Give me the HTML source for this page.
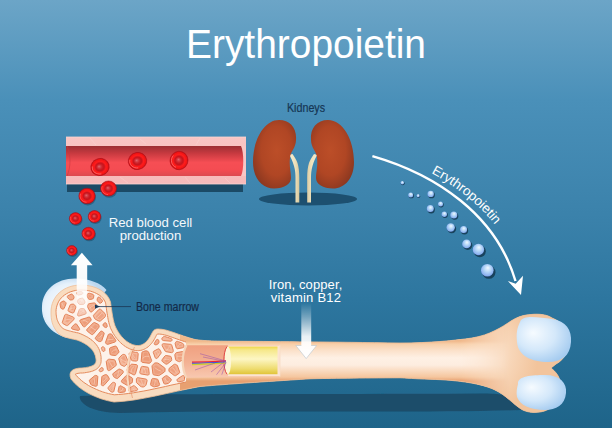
<!DOCTYPE html>
<html><head><meta charset="utf-8"><style>
html,body{margin:0;padding:0;width:612px;height:428px;overflow:hidden;background:#3b82ab}
svg{display:block}
text{font-family:"Liberation Sans",sans-serif}
</style></head><body>
<svg width="612" height="428" viewBox="0 0 612 428">
<defs>
<linearGradient id="bgG" x1="0" y1="0" x2="0" y2="1">
 <stop offset="0" stop-color="#6ca5c7"/>
 <stop offset="0.234" stop-color="#4a90b9"/>
 <stop offset="0.5" stop-color="#3b82ab"/>
 <stop offset="0.7" stop-color="#2d769f"/>
 <stop offset="1" stop-color="#1e6489"/>
</linearGradient>
<radialGradient id="rbcG">
 <stop offset="0" stop-color="#d02830"/>
 <stop offset="0.45" stop-color="#c8141c"/>
 <stop offset="0.65" stop-color="#ff1c1c"/>
 <stop offset="0.88" stop-color="#f01414"/>
 <stop offset="1" stop-color="#b00c14"/>
</radialGradient>
<radialGradient id="rbcC" fx="0.45" fy="0.4">
 <stop offset="0" stop-color="#e47880" stop-opacity="0.85"/>
 <stop offset="1" stop-color="#d02830" stop-opacity="0"/>
</radialGradient>
<radialGradient id="bubG" cx="0.5" cy="0.45" r="0.58" fx="0.55" fy="0.3">
 <stop offset="0" stop-color="#f2f9ff"/>
 <stop offset="0.45" stop-color="#b6d8f8"/>
 <stop offset="0.85" stop-color="#8cb2f0"/>
 <stop offset="1" stop-color="#7090e0"/>
</radialGradient>
<linearGradient id="wallG" x1="0" y1="0" x2="0" y2="1">
 <stop offset="0" stop-color="#f9c6c4"/>
 <stop offset="1" stop-color="#f6baba"/>
</linearGradient>
<linearGradient id="lumenG" x1="0" y1="0" x2="0" y2="1">
 <stop offset="0" stop-color="#9c3034"/>
 <stop offset="0.25" stop-color="#c83a40"/>
 <stop offset="0.55" stop-color="#f64e54"/>
 <stop offset="0.8" stop-color="#f44c52"/>
 <stop offset="1" stop-color="#dc4a50"/>
</linearGradient>
<radialGradient id="kidG" cx="0.55" cy="0.45" r="0.6">
 <stop offset="0" stop-color="#bc4e28"/>
 <stop offset="0.6" stop-color="#b04624"/>
 <stop offset="1" stop-color="#8c3820"/>
</radialGradient>
<filter id="blur1" x="-5%" y="-50%" width="110%" height="200%"><feGaussianBlur stdDeviation="0.7"/></filter>
<linearGradient id="urG" x1="0" y1="0" x2="1" y2="0">
 <stop offset="0" stop-color="#f6eed6"/>
 <stop offset="0.6" stop-color="#efe2bc"/>
 <stop offset="1" stop-color="#d8c89c"/>
</linearGradient>
<linearGradient id="urG2" x1="0" y1="0" x2="1" y2="0">
 <stop offset="0" stop-color="#f4ead0"/>
 <stop offset="0.6" stop-color="#efe2bc"/>
 <stop offset="1" stop-color="#dccca4"/>
</linearGradient>
<linearGradient id="shaftG" gradientUnits="userSpaceOnUse" x1="0" y1="341" x2="0" y2="381">
 <stop offset="0" stop-color="#f0b88a"/>
 <stop offset="0.08" stop-color="#f8d0aa"/>
 <stop offset="0.25" stop-color="#fbe2cc"/>
 <stop offset="0.42" stop-color="#fef0e4"/>
 <stop offset="0.6" stop-color="#fdede0"/>
 <stop offset="0.76" stop-color="#f9d8bc"/>
 <stop offset="0.9" stop-color="#f5c69e"/>
 <stop offset="1" stop-color="#e8a070"/>
</linearGradient>
<radialGradient id="flareG" gradientUnits="userSpaceOnUse" cx="478" cy="355" r="60" fx="470" fy="350">
 <stop offset="0" stop-color="#fde8d6"/>
 <stop offset="0.5" stop-color="#f9dbc0"/>
 <stop offset="1" stop-color="#f2c49c"/>
</radialGradient>
<linearGradient id="maskG" gradientUnits="userSpaceOnUse" x1="460" y1="0" x2="510" y2="0">
 <stop offset="0" stop-color="#fff"/>
 <stop offset="1" stop-color="#000"/>
</linearGradient>
<mask id="shaftMask" maskUnits="userSpaceOnUse" x="0" y="0" width="612" height="428"><rect x="0" y="0" width="612" height="428" fill="url(#maskG)"/></mask>
<linearGradient id="boneG" x1="0" y1="0" x2="0" y2="1">
 <stop offset="0" stop-color="#f4cfa8"/>
 <stop offset="0.45" stop-color="#fbe5cd"/>
 <stop offset="1" stop-color="#f2caa2"/>
</linearGradient>
<linearGradient id="cavG" x1="0" y1="0" x2="0" y2="1">
 <stop offset="0" stop-color="#f0a080"/>
 <stop offset="0.5" stop-color="#f3b092"/>
 <stop offset="1" stop-color="#f8c8b0"/>
</linearGradient>
<linearGradient id="yelG" x1="0" y1="0" x2="0" y2="1">
 <stop offset="0" stop-color="#f0d848"/>
 <stop offset="0.12" stop-color="#f6e88a"/>
 <stop offset="0.45" stop-color="#fdf6c4"/>
 <stop offset="0.8" stop-color="#eedc70"/>
 <stop offset="1" stop-color="#e0c438"/>
</linearGradient>
<radialGradient id="capG" cx="0.45" cy="0.5" r="0.55">
 <stop offset="0" stop-color="#ffffff"/>
 <stop offset="0.75" stop-color="#e6f1fb"/>
 <stop offset="1" stop-color="#bcd8f0"/>
</radialGradient>
<radialGradient id="condG" cx="0.4" cy="0.4" r="0.65" fx="0.3" fy="0.35">
 <stop offset="0" stop-color="#f6fbff"/>
 <stop offset="0.55" stop-color="#d4e8fa"/>
 <stop offset="1" stop-color="#a6ccf0"/>
</radialGradient>
<linearGradient id="upG" x1="0" y1="0" x2="0" y2="1">
 <stop offset="0" stop-color="#ffffff"/>
 <stop offset="0.45" stop-color="#ffffff" stop-opacity="0.95"/>
 <stop offset="0.62" stop-color="#ffffff" stop-opacity="0.75"/>
 <stop offset="0.85" stop-color="#ffffff" stop-opacity="0.5"/>
 <stop offset="1" stop-color="#ffffff" stop-opacity="0.15"/>
</linearGradient>
<linearGradient id="downG" x1="0" y1="0" x2="0" y2="1">
 <stop offset="0" stop-color="#ffffff" stop-opacity="0"/>
 <stop offset="0.25" stop-color="#ffffff" stop-opacity="0.35"/>
 <stop offset="0.6" stop-color="#ffffff" stop-opacity="0.9"/>
 <stop offset="1" stop-color="#ffffff"/>
</linearGradient>
</defs>
<rect width="612" height="428" fill="url(#bgG)"/><text x="306" y="58" text-anchor="middle" font-size="40" fill="#ffffff" textLength="240" lengthAdjust="spacingAndGlyphs">Erythropoietin</text><rect x="67" y="183" width="176" height="9" fill="#1b4a66"/><rect x="66" y="137" width="180" height="47" fill="url(#wallG)"/><path d="M66,146 L243,146 C245,152 245,170 243,176 L66,176 Z" fill="url(#lumenG)"/><path d="M67,146 C71,155 71,167 67,176" fill="none" stroke="#c8383e" stroke-width="0.8" opacity="0.7"/><path d="M241,146 C244,152 244,170 241,176 L246,176 L246,146 Z" fill="#f9c6c4"/><path d="M66,137 L246,137 M66,184 L246,184" stroke="#fbd4d2" stroke-width="0.8"/><path d="M90,138 L96,145 M140,139 L146,144 M200,138 L196,145 M120,177 L128,183 M185,177 L190,183 M225,178 L230,183" stroke="#fde0de" stroke-width="0.6" fill="none" opacity="0.5"/><g transform="translate(100,167) rotate(-15)"><ellipse rx="9.3" ry="8.6" fill="url(#rbcG)" stroke="#b80e18" stroke-width="0.5"/><ellipse cx="-0.4650000000000001" cy="-0.172" rx="3.906" ry="3.44" fill="url(#rbcC)"/><path d="M-7.25,-2.58 A7.44,6.88 0 0 0 -0.47,6.88" fill="none" stroke="#ff9c9c" stroke-width="0.93" opacity="0.55"/></g><g transform="translate(137.5,161) rotate(-10)"><ellipse rx="9.3" ry="8.6" fill="url(#rbcG)" stroke="#b80e18" stroke-width="0.5"/><ellipse cx="-0.4650000000000001" cy="-0.172" rx="3.906" ry="3.44" fill="url(#rbcC)"/><path d="M-7.25,-2.58 A7.44,6.88 0 0 0 -0.47,6.88" fill="none" stroke="#ff9c9c" stroke-width="0.93" opacity="0.55"/></g><g transform="translate(179,160.5) rotate(20)"><ellipse rx="9.0" ry="9.3" fill="url(#rbcG)" stroke="#b80e18" stroke-width="0.5"/><ellipse cx="-0.45" cy="-0.18600000000000003" rx="3.78" ry="3.7200000000000006" fill="url(#rbcC)"/><path d="M-7.02,-2.79 A7.20,7.44 0 0 0 -0.45,7.44" fill="none" stroke="#ff9c9c" stroke-width="0.90" opacity="0.55"/></g><ellipse cx="308" cy="199" rx="49" ry="6.5" fill="#1d5070"/><path d="M288.8,155 C291,157 292.5,161 294,166 C295.2,170 295.5,174 295.5,178 L295.5,202.4 L299.3,202.4 L299.3,178 C299.3,172 298.8,167 297.5,163 C296.5,160 294.5,157 292.5,154 Z" fill="url(#urG)"/><path d="M288.8,155 C291,157 292.5,161 294,166 C295.2,170 295.5,174 295.5,178 L295.5,202.4 L299.3,202.4 L299.3,178 C299.3,172 298.8,167 297.5,163 C296.5,160 294.5,157 292.5,154 Z" fill="url(#urG2)" transform="translate(606.5,0) scale(-1,1)"/><path d="M279,120 C290,120 297,128 296,140 C296,148 290,152 290,158 C289,166 291,172 291,178 C291,184 284,188.5 274,188.5 C262,188.5 253,178 253,162 C253,140 264,120 279,120 Z" fill="url(#kidG)"/><path d="M279,120 C290,120 297,128 296,140 C296,148 290,152 290,158 C289,166 291,172 291,178 C291,184 284,188.5 274,188.5 C262,188.5 253,178 253,162 C253,140 264,120 279,120 Z" fill="url(#kidG)" transform="translate(607,0) scale(-1,1)"/><text x="0" y="0" font-size="12.5" fill="#163654" stroke="#163654" stroke-width="0.2" text-anchor="middle" transform="translate(306,111.6) scale(0.86,1)">Kidneys</text><ellipse cx="109.3" cy="190.1" rx="8" ry="7.6" fill="#17435e" opacity="0.5"/><g transform="translate(108.5,188.5) rotate(0)"><ellipse rx="8" ry="7.6" fill="url(#rbcG)" stroke="#b80e18" stroke-width="0.5"/><ellipse cx="-0.4" cy="-0.152" rx="3.36" ry="3.04" fill="url(#rbcC)"/><path d="M-6.24,-2.28 A6.40,6.08 0 0 0 -0.40,6.08" fill="none" stroke="#ff9c9c" stroke-width="0.80" opacity="0.55"/></g><ellipse cx="87.8" cy="197.6" rx="8.2" ry="7.789999999999999" fill="#17435e" opacity="0.5"/><g transform="translate(87,196) rotate(0)"><ellipse rx="8.2" ry="7.789999999999999" fill="url(#rbcG)" stroke="#b80e18" stroke-width="0.5"/><ellipse cx="-0.41" cy="-0.1558" rx="3.4439999999999995" ry="3.1159999999999997" fill="url(#rbcC)"/><path d="M-6.40,-2.34 A6.56,6.23 0 0 0 -0.41,6.23" fill="none" stroke="#ff9c9c" stroke-width="0.82" opacity="0.55"/></g><ellipse cx="76.3" cy="220.1" rx="6.2" ry="5.89" fill="#17435e" opacity="0.5"/><g transform="translate(75.5,218.5) rotate(0)"><ellipse rx="6.2" ry="5.89" fill="url(#rbcG)" stroke="#b80e18" stroke-width="0.5"/><ellipse cx="-0.31000000000000005" cy="-0.1178" rx="2.604" ry="2.356" fill="url(#rbcC)"/><path d="M-4.84,-1.77 A4.96,4.71 0 0 0 -0.31,4.71" fill="none" stroke="#ff9c9c" stroke-width="0.62" opacity="0.55"/></g><ellipse cx="95.3" cy="218.1" rx="6.3" ry="5.984999999999999" fill="#17435e" opacity="0.5"/><g transform="translate(94.5,216.5) rotate(0)"><ellipse rx="6.3" ry="5.984999999999999" fill="url(#rbcG)" stroke="#b80e18" stroke-width="0.5"/><ellipse cx="-0.315" cy="-0.11969999999999999" rx="2.646" ry="2.3939999999999997" fill="url(#rbcC)"/><path d="M-4.91,-1.80 A5.04,4.79 0 0 0 -0.32,4.79" fill="none" stroke="#ff9c9c" stroke-width="0.63" opacity="0.55"/></g><ellipse cx="89.3" cy="235.1" rx="6.6" ry="6.27" fill="#17435e" opacity="0.5"/><g transform="translate(88.5,233.5) rotate(0)"><ellipse rx="6.6" ry="6.27" fill="url(#rbcG)" stroke="#b80e18" stroke-width="0.5"/><ellipse cx="-0.33" cy="-0.12539999999999998" rx="2.772" ry="2.508" fill="url(#rbcC)"/><path d="M-5.15,-1.88 A5.28,5.02 0 0 0 -0.33,5.02" fill="none" stroke="#ff9c9c" stroke-width="0.66" opacity="0.55"/></g><ellipse cx="72.6" cy="252.1" rx="5.2" ry="4.9399999999999995" fill="#17435e" opacity="0.5"/><g transform="translate(71.8,250.5) rotate(0)"><ellipse rx="5.2" ry="4.9399999999999995" fill="url(#rbcG)" stroke="#b80e18" stroke-width="0.5"/><ellipse cx="-0.26" cy="-0.0988" rx="2.184" ry="1.976" fill="url(#rbcC)"/><path d="M-4.06,-1.48 A4.16,3.95 0 0 0 -0.26,3.95" fill="none" stroke="#ff9c9c" stroke-width="0.60" opacity="0.55"/></g><text x="150.5" y="226.6" text-anchor="middle" font-size="13.2" fill="#f4f8fb">Red blood cell</text><text x="150.5" y="239.6" text-anchor="middle" font-size="13.2" fill="#f4f8fb">production</text><path d="M80,396 C150,393 300,394.5 480,393.5 C515,393 528,402 522,410 C400,413.5 250,409.5 120,413 C90,413 78,402 80,396 Z" fill="#1b4d6b" filter="url(#blur1)"/><path d="M67,338 C50,333 41,321 42,306 C43,290 56,278.5 75,278.5 C89,278.5 101,283 106.5,290 L95,305 L75,330 Z" fill="url(#capG)"/><clipPath id="boneClip"><path d="M81,285 C97,285 108,293 110.5,302 C112,312 113,322 116,328 C120,336 127,344 136,345.5 C143,346.5 148,341 151,335 C153,331 154,329 158,329 C168,329 178,335 195,339.5 C205,341 215,341.2 240,341.3 C280,341.5 330,342 400,343 C430,343 455,340.5 472,338 C490,335 502,327 511,321 C518,316.5 524,315 531,314.5 C540,313.5 548,315 552,318 C572,325 574,355 556,364 L551,368 C556,372 559,376 560,381 C562,396 555,410 540,412 C532,413 526,412 521,409 C513,404 506,395 494,389.5 C482,384 460,380 430,379.3 C415,378.8 405,378 400,377.8 C360,378 330,378.3 310,378.8 C260,382 230,384 200,386.5 C170,392 140,401 114,402 C96,399 79,390 71,379 C68,372 72,368 82,368 C92,367 97,365 96,359 C95,350 88,344 77,340 C68,338 62,337 58,333 C52,326 51,320 51,312 C51,296 64,285 81,285 Z"/></clipPath><path d="M81,285 C97,285 108,293 110.5,302 C112,312 113,322 116,328 C120,336 127,344 136,345.5 C143,346.5 148,341 151,335 C153,331 154,329 158,329 C168,329 178,335 195,339.5 C205,341 215,341.2 240,341.3 C280,341.5 330,342 400,343 C430,343 455,340.5 472,338 C490,335 502,327 511,321 C518,316.5 524,315 531,314.5 C540,313.5 548,315 552,318 C572,325 574,355 556,364 L551,368 C556,372 559,376 560,381 C562,396 555,410 540,412 C532,413 526,412 521,409 C513,404 506,395 494,389.5 C482,384 460,380 430,379.3 C415,378.8 405,378 400,377.8 C360,378 330,378.3 310,378.8 C260,382 230,384 200,386.5 C170,392 140,401 114,402 C96,399 79,390 71,379 C68,372 72,368 82,368 C92,367 97,365 96,359 C95,350 88,344 77,340 C68,338 62,337 58,333 C52,326 51,320 51,312 C51,296 64,285 81,285 Z" fill="#f9dcc0"/><g clip-path="url(#boneClip)"><rect x="440" y="300" width="160" height="128" fill="url(#flareG)"/><rect x="180" y="300" width="420" height="128" fill="url(#shaftG)" mask="url(#shaftMask)"/></g><path d="M75.7,290.4 73.2,291.0 70.8,291.7 68.6,292.6 66.6,293.7 64.7,294.9 62.9,296.3 61.4,297.8 60.0,299.4 58.8,301.2 57.9,303.1 57.1,305.1 56.5,307.3 56.1,309.6 56.0,311.6 56.1,312.5 56.1,313.8 56.2,314.9 56.4,316.1 56.5,317.2 56.8,318.2 57.0,319.3 57.4,320.3 57.8,321.2 58.2,322.2 58.7,323.2 59.4,324.3 60.1,325.3 60.9,326.4 61.6,327.4 62.0,327.7 62.6,328.1 63.1,328.5 63.8,328.9 64.5,329.3 65.3,329.6 66.2,330.0 67.2,330.3 68.2,330.6 69.4,330.9 70.6,331.2 71.9,331.6 73.3,331.9 74.8,332.2 76.4,332.6 76.4,332.6 78.1,332.9 78.4,333.0 78.8,333.1 80.8,333.9 81.0,334.0 82.9,334.8 83.1,334.9 84.9,335.8 85.1,335.9 86.8,336.8 87.1,336.9 88.7,337.9 88.9,338.0 90.4,339.1 90.7,339.3 92.0,340.3 92.3,340.6 93.6,341.7 93.8,342.0 95.0,343.2 95.3,343.4 96.3,344.7 96.6,345.0 97.5,346.4 97.7,346.7 98.5,348.1 98.7,348.5 99.4,350.0 99.5,350.4 100.1,351.9 100.2,352.4 100.6,353.9 100.7,354.4 100.9,356.0 101.0,356.3 101.1,357.3 101.1,358.0 101.1,359.0 101.1,359.4 101.1,359.4 101.1,359.5 101.1,360.2 101.1,361.2 101.1,361.6 101.0,361.9 100.9,362.8 100.8,363.3 100.6,363.7 100.3,364.5 100.2,364.9 100.0,365.3 99.5,366.0 99.3,366.4 99.1,366.7 98.5,367.4 98.2,367.7 97.9,368.0 97.2,368.6 96.7,369.0 95.9,369.5 95.4,369.8 94.4,370.3 94.0,370.5 92.9,370.9 92.6,371.1 91.4,371.4 91.1,371.5 89.8,371.9 89.5,371.9 88.1,372.2 87.9,372.2 86.3,372.5 86.2,372.5 84.5,372.8 84.4,372.8 82.5,373.0 82.1,373.0 80.5,373.0 79.1,373.2 78.0,373.3 77.0,373.6 76.2,373.8 75.7,374.0 75.4,374.2 75.4,374.3 76.4,375.6 78.0,377.3 79.8,379.1 81.7,380.7 83.8,382.4 86.1,383.9 88.5,385.5 91.1,386.9 93.8,388.2 96.6,389.5 99.5,390.7 102.4,391.8 105.4,392.7 108.5,393.6 111.7,394.3 114.3,394.8 118.6,394.5 123.4,394.1 128.4,393.5 133.4,392.8 138.6,391.9 143.8,391.0 149.1,390.0 154.5,388.8 159.9,387.7 165.4,386.5 170.9,385.2 176.5,384.0 176.5,384.0 182.1,382.8 182.1,382.8 186.0,382.0 186.0,342.1 184.6,341.6 184.5,341.6 181.9,340.7 181.8,340.7 179.3,339.8 179.2,339.8 176.8,338.9 176.8,338.9 174.4,338.1 172.2,337.3 170.1,336.6 168.1,335.9 166.2,335.3 164.4,334.9 162.7,334.5 161.1,334.2 159.5,334.1 158.0,334.0 157.6,334.0 157.4,334.0 157.3,334.1 157.2,334.1 157.1,334.3 156.9,334.5 156.7,334.9 156.4,335.4 156.1,335.9 155.8,336.5 155.5,337.2 155.4,337.3 154.8,338.4 154.7,338.6 154.1,339.7 154.0,339.9 153.3,341.0 153.2,341.2 152.5,342.2 152.3,342.4 151.5,343.4 151.3,343.6 150.5,344.5 150.3,344.8 149.4,345.6 149.2,345.9 148.3,346.7 148.0,346.9 147.0,347.6 146.6,347.8 145.6,348.5 145.2,348.7 144.2,349.2 143.7,349.4 142.6,349.8 142.1,350.0 141.0,350.3 140.4,350.4 139.2,350.5 138.7,350.6 137.4,350.6 136.9,350.6 135.6,350.5 135.0,350.4 133.3,350.0 132.9,349.9 131.2,349.4 130.8,349.3 129.3,348.7 128.9,348.5 127.4,347.7 127.1,347.6 125.6,346.7 125.3,346.5 123.9,345.5 123.7,345.3 122.3,344.3 122.1,344.1 120.8,342.9 120.6,342.7 119.4,341.5 119.2,341.3 118.0,340.0 117.9,339.8 116.7,338.5 116.6,338.3 115.5,336.9 115.4,336.7 114.4,335.3 114.3,335.1 113.4,333.6 113.3,333.5 112.4,332.0 112.4,331.8 111.6,330.3 111.5,330.1 110.9,328.9 110.8,328.7 110.3,327.4 110.2,327.2 109.8,325.8 109.7,325.7 109.3,324.2 109.2,324.1 108.9,322.6 108.8,322.5 108.5,320.9 108.4,320.8 108.1,319.2 108.1,319.1 107.8,317.4 107.8,317.4 107.5,315.6 107.5,315.6 107.2,313.8 107.2,313.8 106.9,312.0 106.9,312.0 106.6,310.2 106.6,310.1 106.4,308.3 106.1,306.4 105.8,304.6 105.6,303.2 105.3,302.2 104.7,301.0 104.0,299.9 103.2,298.7 102.2,297.6 101.0,296.4 99.7,295.4 98.2,294.4 96.5,293.5 94.7,292.6 92.8,291.9 90.7,291.2 88.5,290.7 86.1,290.3 83.6,290.1 81.0,290.0 78.3,290.1Z" fill="#fdf2ea"/><g><path d="M60.1,303.6 60.1,303.7 60.0,303.9 60.0,304.0 60.0,304.1 60.0,304.3 60.0,304.4 60.0,304.5 60.6,307.6 60.6,307.7 60.7,307.8 60.7,308.0 60.8,308.1 60.9,308.2 61.0,308.3 61.1,308.4 61.2,308.5 61.3,308.5 62.3,309.0 62.4,309.1 62.5,309.1 62.7,309.1 62.8,309.2 62.9,309.2 63.1,309.2 63.2,309.1 63.3,309.1 63.5,309.0 63.6,309.0 63.7,308.9 63.8,308.8 63.9,308.7 64.0,308.6 64.1,308.5 64.1,308.4 64.2,308.3 66.0,303.9 66.0,303.8 66.1,303.7 66.1,303.5 66.1,303.4 66.1,303.3 66.1,303.1 66.0,303.0 66.0,302.9 65.9,302.7 65.9,302.6 65.8,302.5 65.7,302.4 64.7,301.4 64.6,301.3 64.5,301.2 64.4,301.1 64.2,301.1 64.1,301.0 64.0,301.0 63.8,301.0 63.7,301.0 63.5,301.0 63.4,301.0 63.3,301.0 63.1,301.1 61.4,301.9 61.3,301.9 61.1,302.0 61.0,302.1 60.9,302.2 60.8,302.3 60.8,302.4 60.7,302.5Z" fill="#f0aa8a" stroke="#e0784c" stroke-width="0.9"/><path d="M62.0,303.1 Q62.5,305.0 63.9,306.7" fill="none" stroke="#fbd8c4" stroke-width="0.7" opacity="0.8"/><path d="M68.1,295.6 68.0,295.7 67.8,295.7 67.7,295.8 67.7,295.9 67.6,296.0 67.5,296.2 67.4,296.3 67.4,296.4 67.4,296.5 67.3,296.7 67.3,296.8 67.3,297.0 67.3,297.1 67.4,297.2 67.4,297.4 67.5,297.5 67.6,297.6 67.6,297.7 67.7,297.8 69.4,299.5 69.5,299.6 69.6,299.7 69.7,299.8 69.9,299.9 70.0,299.9 70.1,299.9 70.3,300.0 70.4,300.0 70.6,300.0 72.3,299.8 72.5,299.8 72.6,299.7 72.7,299.7 72.8,299.6 72.9,299.6 73.1,299.5 73.2,299.4 73.3,299.3 73.3,299.2 73.4,299.1 73.5,299.0 73.9,297.9 74.0,297.8 74.0,297.6 74.1,297.5 74.1,297.4 74.1,297.2 74.1,297.1 74.0,297.0 74.0,296.8 73.9,296.7 73.9,296.6 72.8,294.8 72.7,294.7 72.6,294.6 72.5,294.5 72.4,294.4 72.3,294.3 72.2,294.2 72.0,294.2 71.9,294.1 71.8,294.1 71.6,294.1 71.5,294.1 71.3,294.1 71.2,294.2 71.1,294.2 69.7,294.8 69.6,294.8Z" fill="#f1ae90" stroke="#e0784c" stroke-width="0.9"/><path d="M62.4,321.9 62.4,322.1 62.4,322.2 62.3,322.3 62.3,322.5 62.4,322.6 62.4,322.8 62.4,322.9 62.5,323.0 62.6,323.1 62.6,323.2 62.7,323.4 62.8,323.5 62.9,323.5 63.0,323.6 66.2,325.4 66.3,325.5 66.5,325.6 66.6,325.6 66.7,325.6 66.9,325.6 67.0,325.6 67.2,325.6 67.3,325.6 67.4,325.5 67.5,325.5 67.7,325.4 67.8,325.3 67.9,325.3 73.8,319.7 73.9,319.6 74.0,319.5 74.0,319.4 74.1,319.3 74.1,319.1 74.2,319.0 74.2,318.9 74.2,318.7 74.2,318.6 74.2,318.4 74.2,318.3 74.1,318.2 74.0,318.0 73.8,317.6 73.8,317.5 73.7,317.4 73.6,317.3 73.5,317.2 73.4,317.1 73.2,317.1 73.1,317.0 66.6,314.4 66.4,314.3 66.3,314.3 66.2,314.3 66.0,314.3 65.9,314.3 65.8,314.3 65.6,314.3 65.5,314.4 65.4,314.4 65.3,314.5 65.2,314.6 65.1,314.7 65.0,314.8 64.9,314.9 64.8,315.0 64.8,315.1 64.7,315.2Z" fill="#f5ba9e" stroke="#e0784c" stroke-width="0.9"/><path d="M65.2,321.2 67.6,322.6 72.2,318.2 66.9,316.1Z" fill="#e8875e" opacity="0.4"/><path d="M70.8,319.3 Q66.1,319.2 64.7,320.4" fill="none" stroke="#fbd8c4" stroke-width="0.7" opacity="0.8"/><path d="M68.2,309.7 68.1,309.9 68.1,310.0 68.1,310.1 68.0,310.3 68.1,310.4 68.1,310.5 68.1,310.7 68.2,310.8 68.2,310.9 68.3,311.1 68.4,311.2 68.5,311.3 68.6,311.4 68.7,311.4 68.8,311.5 68.9,311.6 72.2,312.9 72.3,312.9 72.5,313.0 72.6,313.0 72.8,313.0 72.9,313.0 73.0,313.0 73.2,312.9 73.3,312.9 73.4,312.8 73.5,312.7 73.7,312.6 73.8,312.6 73.8,312.4 73.9,312.3 74.0,312.2 74.0,312.1 75.7,307.7 75.8,307.5 75.8,307.4 75.8,307.3 75.8,307.1 75.8,307.0 75.8,306.9 75.8,306.7 75.7,306.6 75.6,306.5 75.6,306.3 74.3,304.7 74.2,304.6 74.1,304.5 74.0,304.4 73.9,304.3 73.8,304.3 73.7,304.2 73.6,304.2 73.5,304.1 73.3,304.1 73.2,304.1 73.1,304.1 71.2,304.3 71.0,304.3 70.9,304.4 70.8,304.4 70.7,304.5 70.5,304.5 70.4,304.6 70.3,304.7 70.2,304.8 70.1,304.9 70.1,305.0 70.0,305.2Z" fill="#f5ba9e" stroke="#e0784c" stroke-width="0.9"/><path d="M71.1,309.6 73.1,310.4 74.3,307.2 73.3,305.9 72.6,305.9Z" fill="#e8875e" opacity="0.4"/><path d="M74.3,307.9 Q72.2,307.9 69.7,309.1" fill="none" stroke="#fbd8c4" stroke-width="0.7" opacity="0.8"/><path d="M77.6,301.0 77.5,301.1 77.5,301.2 77.5,301.3 77.5,301.5 77.5,301.6 77.5,301.7 77.5,301.9 77.5,302.0 77.6,302.1 77.7,302.3 77.7,302.4 78.8,303.9 78.9,304.0 79.0,304.1 79.1,304.2 79.2,304.2 79.4,304.3 79.5,304.4 79.6,304.4 79.8,304.4 79.9,304.4 80.0,304.4 83.2,304.3 83.3,304.3 83.4,304.3 83.6,304.3 83.7,304.2 83.8,304.1 83.9,304.1 84.0,304.0 84.1,303.9 84.2,303.8 84.3,303.7 84.4,303.6 84.8,302.8 84.8,302.6 84.9,302.5 84.9,302.4 84.9,302.2 84.9,302.1 84.9,302.0 84.9,301.9 84.9,301.7 84.8,301.6 84.8,301.5 83.5,298.9 83.4,298.8 83.3,298.7 83.2,298.6 83.1,298.5 83.0,298.4 82.9,298.3 82.8,298.3 82.6,298.2 82.5,298.2 82.4,298.2 82.2,298.2 82.1,298.2 81.9,298.2 79.2,298.8 79.0,298.8 78.9,298.9 78.8,298.9 78.7,299.0 78.6,299.1 78.5,299.2 78.4,299.3 78.3,299.4 78.3,299.5 78.2,299.6Z" fill="#f5ba9e" stroke="#e0784c" stroke-width="0.9"/><path d="M79.5,301.3 79.2,301.9 80.0,302.9 82.4,302.9 82.5,302.7 81.5,300.8Z" fill="#e8875e" opacity="0.4"/><path d="M82.0,299.6 Q81.8,301.0 80.4,303.3" fill="none" stroke="#fbd8c4" stroke-width="0.7" opacity="0.8"/><path d="M71.9,326.9 71.8,327.0 71.7,327.1 71.7,327.2 71.6,327.3 71.6,327.4 71.5,327.6 71.5,327.7 71.5,327.8 71.5,328.0 71.5,328.1 71.5,328.2 71.6,328.4 71.6,328.5 71.7,328.6 71.8,328.7 71.9,328.8 72.0,328.9 72.1,329.0 72.2,329.1 72.3,329.2 72.4,329.2 72.6,329.2 73.9,329.5 73.9,329.5 75.4,329.9 75.4,329.9 76.9,330.2 77.9,330.4 78.1,330.4 78.2,330.5 78.3,330.5 78.5,330.4 78.6,330.4 78.7,330.4 78.9,330.3 79.0,330.2 79.1,330.2 79.2,330.1 79.3,330.0 79.4,329.9 79.5,329.7 79.5,329.6 79.6,329.5 79.6,329.3 79.6,329.2 79.6,329.1 79.6,328.9 79.6,328.8 79.6,328.7 79.5,328.5 79.5,328.4 79.4,328.3 76.9,324.5 76.8,324.3 76.7,324.2 76.6,324.2 76.5,324.1 76.4,324.0 76.2,323.9 76.1,323.9 76.0,323.9 75.9,323.8 75.7,323.8 75.6,323.8 75.5,323.9 75.3,323.9 75.2,323.9 75.1,324.0 75.0,324.0 74.8,324.1 74.7,324.2Z" fill="#f1ae90" stroke="#e0784c" stroke-width="0.9"/><path d="M78.0,291.8 77.8,291.8 77.7,291.8 77.6,291.9 77.5,292.0 77.3,292.0 77.2,292.1 77.1,292.2 77.0,292.3 77.0,292.4 76.9,292.6 76.8,292.7 76.8,292.8 76.8,292.9 76.8,293.1 76.8,293.2 76.8,293.4 76.8,293.5 76.8,293.6 76.9,293.8 77.0,293.9 77.2,294.4 77.3,294.5 77.4,294.6 77.5,294.7 77.6,294.8 77.7,294.9 77.8,294.9 78.0,295.0 78.1,295.0 78.2,295.0 78.3,295.1 78.5,295.1 78.6,295.1 78.7,295.0 81.7,294.4 81.8,294.4 81.9,294.3 82.1,294.3 82.2,294.2 82.3,294.1 82.4,294.0 82.5,293.9 82.6,293.8 82.6,293.7 82.7,293.6 82.7,293.4 82.8,293.3 82.8,293.2 82.8,293.0 82.8,292.9 82.8,292.8 82.7,292.6 82.7,292.5 82.6,292.4 82.6,292.3 82.5,292.2 82.4,292.1 82.3,292.0 82.2,291.9 82.1,291.8 82.0,291.7 81.8,291.7 81.7,291.7 81.6,291.6 81.4,291.6 81.1,291.6 81.0,291.6 78.5,291.7 78.3,291.7Z" fill="#f1ae90" stroke="#e0784c" stroke-width="0.9"/><path d="M77.6,314.2 77.5,314.3 77.5,314.5 77.5,314.6 77.5,314.7 77.5,314.9 77.5,315.0 77.5,315.1 77.6,315.3 77.6,315.4 77.7,315.5 77.8,315.6 77.9,315.7 78.0,315.8 78.1,315.9 78.2,316.0 78.4,316.0 78.5,316.1 78.6,316.1 78.8,316.1 78.9,316.1 79.0,316.1 79.2,316.1 79.3,316.0 85.3,314.1 85.4,314.1 85.5,314.0 85.6,313.9 85.7,313.9 85.8,313.8 85.9,313.7 86.0,313.6 86.1,313.4 86.1,313.3 86.2,313.2 86.2,313.1 86.2,312.9 86.2,312.8 86.2,312.6 86.2,312.5 86.2,312.4 86.1,312.3 86.1,312.1 84.5,309.3 84.5,309.2 84.4,309.1 84.3,308.9 84.2,308.9 84.1,308.8 83.9,308.7 83.8,308.6 83.7,308.6 83.5,308.6 83.4,308.6 83.3,308.6 80.6,308.6 80.5,308.7 80.3,308.7 80.2,308.7 80.1,308.8 80.0,308.8 79.8,308.9 79.7,309.0 79.6,309.1 79.5,309.2 79.5,309.3 79.4,309.4 79.3,309.5Z" fill="#f3b294" stroke="#e0784c" stroke-width="0.9"/><path d="M79.4,313.9 83.4,312.6 82.4,310.8 80.5,310.8Z" fill="#e8875e" opacity="0.4"/><path d="M83.7,311.1 Q81.6,312.0 79.8,313.5" fill="none" stroke="#fbd8c4" stroke-width="0.7" opacity="0.8"/><path d="M87.6,305.7 87.6,305.8 87.5,306.0 87.5,306.1 87.5,306.2 87.5,306.4 87.5,306.5 87.5,306.6 87.5,306.8 87.6,306.9 87.6,307.0 89.9,311.3 90.0,311.4 90.1,311.5 90.2,311.6 90.3,311.7 90.4,311.8 90.5,311.9 90.6,311.9 90.8,312.0 90.9,312.0 91.0,312.0 91.2,312.0 91.3,312.0 91.5,312.0 91.6,312.0 91.7,311.9 91.8,311.8 92.0,311.8 92.1,311.7 92.2,311.6 96.6,306.9 96.7,306.8 96.7,306.7 96.8,306.6 96.9,306.4 96.9,306.3 96.9,306.2 96.9,306.0 96.9,305.9 96.9,305.8 96.9,305.6 96.9,305.5 96.8,305.4 96.8,305.2 96.7,305.1 96.6,305.0 95.2,303.3 95.1,303.2 95.0,303.2 94.8,303.1 94.7,303.0 94.6,303.0 94.5,302.9 94.3,302.9 94.2,302.9 94.0,302.9 93.9,302.9 89.4,303.6 89.2,303.6 89.1,303.6 89.0,303.7 88.9,303.7 88.8,303.8 88.6,303.9 88.6,304.0 88.5,304.1 88.4,304.2 88.3,304.3Z" fill="#f3b294" stroke="#e0784c" stroke-width="0.9"/><path d="M90.5,306.6 92.0,309.5 95.4,305.9 94.8,305.2 90.9,305.8Z" fill="#e8875e" opacity="0.4"/><path d="M94.1,305.4 Q91.4,305.9 89.9,308.4" fill="none" stroke="#fbd8c4" stroke-width="0.7" opacity="0.8"/><path d="M80.8,319.6 80.7,319.7 80.5,319.7 80.4,319.8 80.3,319.9 80.2,320.0 80.1,320.1 80.1,320.2 80.0,320.3 79.9,320.4 79.9,320.5 79.8,320.7 79.8,320.8 79.8,320.9 79.8,321.1 79.8,321.2 79.9,321.3 79.9,321.5 80.0,321.6 80.1,321.7 83.0,326.2 83.1,326.3 83.2,326.4 83.3,326.5 83.4,326.6 83.5,326.7 83.7,326.7 83.8,326.8 83.9,326.8 84.1,326.8 84.2,326.8 84.3,326.8 84.5,326.8 84.6,326.8 84.7,326.7 84.8,326.7 85.0,326.6 85.1,326.5 85.2,326.4 90.8,320.8 90.9,320.7 91.0,320.6 91.0,320.5 91.1,320.3 91.2,320.2 91.2,320.1 91.2,319.9 91.2,319.8 91.2,319.7 91.2,319.5 91.2,319.4 91.1,319.3 91.0,319.1 90.3,317.8 90.2,317.6 90.1,317.5 90.1,317.4 89.9,317.3 89.8,317.2 89.7,317.2 89.6,317.1 89.5,317.1 89.3,317.0 89.2,317.0 89.1,317.0 88.9,317.0 88.8,317.1 88.6,317.1Z" fill="#f0aa8a" stroke="#e0784c" stroke-width="0.9"/><path d="M82.4,321.8 84.5,325.0 89.3,320.2 89.0,319.7Z" fill="#e8875e" opacity="0.4"/><path d="M82.9,320.6 Q85.2,320.2 88.1,322.4" fill="none" stroke="#fbd8c4" stroke-width="0.7" opacity="0.8"/><path d="M88.4,298.7 88.4,298.8 88.5,298.9 88.6,299.0 88.7,299.1 88.8,299.2 88.9,299.3 89.0,299.3 89.1,299.4 89.3,299.4 89.4,299.4 89.5,299.5 89.7,299.5 89.8,299.4 92.3,299.1 92.4,299.0 92.5,299.0 92.7,298.9 92.8,298.9 92.9,298.8 93.0,298.7 93.1,298.6 93.2,298.5 93.3,298.4 93.3,298.3 93.4,298.2 93.4,298.0 93.5,297.9 93.8,295.9 93.8,295.7 93.8,295.6 93.8,295.5 93.7,295.3 93.7,295.2 93.6,295.1 93.6,295.0 93.5,294.8 93.4,294.7 93.3,294.6 93.2,294.5 93.1,294.5 93.0,294.4 92.9,294.3 92.1,294.1 92.0,294.0 90.2,293.5 90.1,293.4 89.7,293.3 89.5,293.3 89.4,293.3 89.3,293.3 89.2,293.3 89.0,293.3 88.2,293.5 88.1,293.6 87.9,293.6 87.8,293.7 87.7,293.8 87.6,293.9 87.5,294.0 87.4,294.1 87.3,294.2 87.3,294.3 87.0,294.9 86.9,295.0 86.9,295.1 86.9,295.3 86.9,295.4 86.9,295.5 86.9,295.7 86.9,295.8 87.0,296.0 87.0,296.1Z" fill="#f1ae90" stroke="#e0784c" stroke-width="0.9"/><path d="M88.5,295.3 88.5,295.3 89.5,297.3 91.1,297.1 91.3,296.0 91.0,295.8 91.0,295.8 89.2,295.3 89.2,295.3 88.9,295.2Z" fill="#e8875e" opacity="0.4"/><path d="M90.8,384.3 90.8,384.4 90.9,384.5 91.0,384.6 91.1,384.7 91.2,384.8 91.3,384.9 91.4,385.0 91.5,385.0 91.6,385.1 95.4,386.3 95.6,386.3 95.7,386.3 95.8,386.3 96.0,386.3 96.1,386.3 96.3,386.3 96.4,386.2 96.5,386.2 96.6,386.1 96.7,386.0 96.8,385.9 96.9,385.8 97.0,385.7 97.1,385.6 97.2,385.5 97.2,385.3 97.2,385.2 97.2,385.0 97.8,377.1 97.8,376.9 97.8,376.8 97.8,376.7 97.7,376.5 97.7,376.4 97.6,376.3 97.5,376.1 97.5,376.0 97.4,375.9 97.3,375.9 97.1,375.8 97.0,375.7 96.9,375.7 96.8,375.6 96.0,375.4 95.8,375.4 95.7,375.4 95.6,375.4 95.4,375.4 95.3,375.4 95.2,375.4 95.1,375.5 94.9,375.5 94.8,375.6 94.7,375.7 89.9,379.7 89.8,379.7 89.7,379.8 89.6,380.0 89.5,380.1 89.5,380.2 89.4,380.3 89.4,380.5 89.4,380.6 89.4,380.7 89.4,380.9 89.4,381.0 89.4,381.2 89.5,381.3Z" fill="#f0aa8a" stroke="#e0784c" stroke-width="0.9"/><path d="M92.5,380.8 93.5,383.2 95.8,383.9 96.3,377.7Z" fill="#e8875e" opacity="0.4"/><path d="M94.1,378.3 Q95.0,380.9 94.3,383.8" fill="none" stroke="#fbd8c4" stroke-width="0.7" opacity="0.8"/><path d="M99.6,369.3 99.5,369.4 99.4,369.5 99.4,369.6 99.3,369.7 99.3,369.9 99.2,370.0 99.2,370.1 99.2,370.3 99.2,370.4 99.2,370.5 99.2,370.7 99.3,370.8 99.3,370.9 99.4,371.0 99.5,371.2 99.6,371.3 99.7,371.4 99.8,371.4 99.9,371.5 100.0,371.6 100.1,371.6 100.2,371.7 100.4,371.7 100.5,371.7 100.7,371.7 100.8,371.7 100.9,371.7 101.1,371.6 101.2,371.6 102.4,371.0 102.6,370.9 102.7,370.9 102.8,370.8 102.9,370.7 103.0,370.6 103.1,370.4 103.1,370.3 103.2,370.2 103.2,370.1 103.2,369.9 103.3,369.8 103.3,369.6 103.2,369.5 103.1,368.8 103.1,368.7 103.1,368.5 103.0,368.4 102.9,368.3 102.9,368.2 102.8,368.0 102.7,368.0 102.6,367.9 102.4,367.8 102.3,367.7 102.2,367.7 102.0,367.6 101.9,367.6 101.8,367.6 101.6,367.6 101.5,367.6 101.4,367.7 101.2,367.7 101.1,367.8 101.0,367.8 100.9,367.9 100.8,368.0 100.7,368.1 100.1,368.8 100.1,368.8 100.1,368.8 100.1,368.8 99.8,369.1 99.8,369.1 99.7,369.2 99.7,369.3Z" fill="#f5ba9e" stroke="#e0784c" stroke-width="0.9"/><path d="M99.6,297.4 99.5,297.3 99.4,297.3 99.3,297.2 99.1,297.2 99.0,297.1 98.8,297.1 98.7,297.1 98.6,297.1 98.4,297.2 98.3,297.2 98.2,297.2 98.0,297.3 97.9,297.4 97.8,297.5 97.7,297.6 97.6,297.7 97.5,297.8 97.5,297.9 97.4,298.0 97.4,298.2 97.4,298.3 97.1,299.8 97.1,299.9 97.1,300.1 97.1,300.2 97.2,300.3 97.2,300.4 97.3,300.6 97.3,300.7 97.4,300.8 97.5,300.9 99.1,302.7 99.1,302.8 99.3,302.9 99.4,303.0 99.5,303.1 99.6,303.1 99.7,303.2 99.9,303.2 100.0,303.2 100.1,303.2 100.3,303.2 100.4,303.2 100.5,303.2 100.7,303.1 100.8,303.1 100.9,303.0 101.0,302.9 102.0,302.1 102.1,302.0 102.2,301.9 102.3,301.7 102.4,301.6 102.4,301.5 102.5,301.4 102.5,301.2 102.5,301.1 102.5,300.9 102.5,300.8 102.5,300.7 102.4,300.5 102.4,300.4 102.3,300.3 102.3,300.2 102.0,299.8 101.9,299.7 101.1,298.7 101.0,298.6 100.0,297.7 99.9,297.6Z" fill="#f1ae90" stroke="#e0784c" stroke-width="0.9"/><path d="M91.3,334.3 91.4,334.4 91.5,334.5 91.7,334.5 91.8,334.6 91.9,334.6 92.1,334.6 92.2,334.6 92.3,334.6 92.5,334.6 92.6,334.6 92.7,334.5 92.8,334.5 93.0,334.4 93.1,334.3 93.2,334.2 93.3,334.1 98.9,327.4 99.0,327.3 99.0,327.2 99.1,327.0 99.1,326.9 99.2,326.8 99.2,326.6 99.2,326.5 99.2,326.3 99.2,326.2 98.9,325.2 98.9,325.1 98.8,325.0 98.8,324.8 98.7,324.7 98.6,324.6 98.5,324.5 98.4,324.4 98.3,324.3 98.2,324.3 94.9,322.7 94.8,322.6 94.7,322.6 94.6,322.5 94.4,322.5 94.3,322.5 94.2,322.5 94.0,322.5 93.9,322.6 93.8,322.6 93.6,322.7 93.5,322.7 93.4,322.8 93.3,322.9 87.2,329.1 87.1,329.2 87.0,329.3 86.9,329.4 86.8,329.5 86.8,329.7 86.8,329.8 86.7,329.9 86.7,330.1 86.8,330.2 86.8,330.4 86.8,330.5 86.9,330.6 86.9,330.8 87.0,330.9 87.1,331.0 87.2,331.1 87.3,331.2Z" fill="#f1ae90" stroke="#e0784c" stroke-width="0.9"/><path d="M89.7,330.1 92.7,332.4 97.7,326.5 97.6,325.9 95.1,324.7Z" fill="#e8875e" opacity="0.4"/><path d="M90.5,326.7 Q95.0,330.0 95.8,330.1" fill="none" stroke="#fbd8c4" stroke-width="0.7" opacity="0.8"/><path d="M95.6,337.4 95.5,337.5 95.4,337.6 95.4,337.7 95.3,337.8 95.3,338.0 95.3,338.1 95.3,338.2 95.3,338.4 95.3,338.5 95.3,338.6 95.4,338.8 95.4,338.9 95.5,339.0 95.6,339.1 95.6,339.2 95.7,339.3 95.8,339.4 98.4,341.3 98.5,341.4 98.6,341.4 98.7,341.5 98.9,341.5 99.0,341.6 99.1,341.6 99.3,341.6 100.6,341.5 100.7,341.5 100.8,341.5 101.0,341.4 101.1,341.4 101.2,341.3 101.3,341.2 101.4,341.1 101.5,341.0 101.6,340.9 101.7,340.8 101.8,340.7 101.8,340.6 104.1,334.0 104.2,333.9 104.2,333.8 104.2,333.6 104.2,333.5 104.2,333.4 104.2,333.2 104.1,333.1 104.1,333.0 104.0,332.9 104.0,332.7 103.9,332.6 103.8,332.5 103.7,332.5 102.4,331.4 102.2,331.3 102.1,331.3 102.0,331.2 101.9,331.1 101.7,331.1 101.6,331.1 101.5,331.1 101.3,331.1 101.2,331.1 101.1,331.2 100.9,331.2 100.8,331.3 100.7,331.3 100.6,331.4 100.5,331.5 100.4,331.6Z" fill="#f0aa8a" stroke="#e0784c" stroke-width="0.9"/><path d="M97.1,338.0 98.6,339.1 99.2,339.1 101.3,333.3 101.1,333.1Z" fill="#e8875e" opacity="0.4"/><path d="M102.0,335.0 Q101.3,336.1 98.1,338.2" fill="none" stroke="#fbd8c4" stroke-width="0.7" opacity="0.8"/><path d="M93.8,314.9 93.7,315.0 93.6,315.1 93.6,315.2 93.5,315.3 93.5,315.4 93.4,315.6 93.4,315.7 93.4,315.8 93.4,316.0 93.4,316.1 93.5,316.2 93.5,316.4 93.6,316.5 94.8,318.7 94.8,318.8 94.9,318.9 95.0,319.0 95.1,319.1 95.3,319.2 95.4,319.3 99.0,321.1 99.1,321.1 99.2,321.2 99.4,321.2 99.5,321.2 99.6,321.2 99.8,321.2 99.9,321.2 100.1,321.2 100.2,321.1 100.3,321.0 100.4,321.0 100.5,320.9 105.0,316.9 105.1,316.8 105.2,316.7 105.3,316.6 105.3,316.5 105.4,316.3 105.4,316.2 105.5,316.1 105.5,315.9 105.5,315.8 105.4,314.4 105.4,314.3 105.3,314.2 105.3,314.0 105.2,313.9 105.2,313.8 105.1,313.7 105.0,313.5 100.8,309.5 100.7,309.4 100.6,309.3 100.5,309.2 100.4,309.2 100.2,309.1 100.1,309.1 100.0,309.1 99.8,309.1 99.7,309.1 99.5,309.1 99.4,309.1 99.3,309.2 99.2,309.2 99.0,309.3 98.9,309.4 98.8,309.5Z" fill="#f5ba9e" stroke="#e0784c" stroke-width="0.9"/><path d="M95.9,316.2 96.8,317.9 99.9,319.4 103.8,315.9 103.8,315.1 100.3,311.6Z" fill="#e8875e" opacity="0.4"/><path d="M101.9,313.2 Q98.9,316.3 97.2,317.6" fill="none" stroke="#fbd8c4" stroke-width="0.7" opacity="0.8"/><path d="M103.6,347.0 103.5,347.0 103.4,346.9 103.2,346.9 103.1,346.8 103.0,346.8 102.8,346.8 102.7,346.8 102.5,346.8 102.4,346.8 102.3,346.9 102.2,347.0 102.0,347.0 101.9,347.1 101.8,347.2 101.7,347.3 101.6,347.4 101.6,347.5 101.5,347.7 101.5,347.8 101.4,347.9 101.4,348.1 101.4,348.2 101.4,348.4 101.5,348.5 101.5,348.6 101.5,348.8 101.6,348.9 101.6,348.9 101.7,349.0 101.7,349.1 101.8,349.5 101.8,349.5 101.9,349.6 101.9,349.6 102.2,350.5 102.3,350.7 102.3,350.8 102.4,350.9 102.5,351.0 102.6,351.1 102.7,351.2 102.8,351.3 102.9,351.3 103.0,351.4 103.2,351.4 103.3,351.4 103.4,351.5 103.6,351.5 103.7,351.5 103.8,351.4 104.0,351.4 104.1,351.3 104.2,351.3 104.3,351.2 104.4,351.1 104.5,351.0 104.6,350.9 104.7,350.8 104.8,350.7 104.8,350.6 104.9,350.5 104.9,350.3 104.9,350.2 104.9,350.1 104.9,349.9 104.8,348.4 104.8,348.3 104.7,348.2 104.7,348.0 104.6,347.9 104.6,347.8 104.5,347.7 104.4,347.6 104.3,347.5 104.2,347.4Z" fill="#f5ba9e" stroke="#e0784c" stroke-width="0.9"/><path d="M101.3,384.2 101.3,384.4 101.3,384.5 101.4,384.6 101.4,384.8 101.4,384.9 101.5,385.0 101.6,385.2 101.7,385.3 101.8,385.4 101.9,385.5 102.0,385.5 102.1,385.6 102.3,385.6 102.4,385.7 102.5,385.7 102.7,385.7 102.9,385.7 103.0,385.7 103.2,385.7 103.3,385.7 103.4,385.7 103.6,385.6 103.7,385.5 103.8,385.5 103.9,385.4 104.0,385.3 108.9,379.8 109.0,379.7 109.1,379.6 109.2,379.5 109.2,379.4 109.2,379.2 109.3,379.1 109.3,379.0 109.3,378.8 109.3,378.7 109.3,378.6 109.2,378.4 109.2,378.3 109.1,378.2 107.6,375.6 107.5,375.4 107.4,375.3 107.3,375.2 107.2,375.1 107.1,375.1 107.0,375.0 106.3,374.7 106.2,374.6 106.1,374.6 105.9,374.6 105.8,374.6 105.7,374.6 105.5,374.6 105.4,374.6 105.3,374.6 105.1,374.7 102.6,375.9 102.5,375.9 102.4,376.0 102.3,376.1 102.2,376.2 102.1,376.3 102.0,376.4 102.0,376.5 101.9,376.6 101.9,376.8 101.8,376.9 101.8,377.0Z" fill="#f1ae90" stroke="#e0784c" stroke-width="0.9"/><path d="M102.9,383.9 106.7,379.8 105.5,377.7 105.3,377.6 103.3,378.5Z" fill="#e8875e" opacity="0.4"/><path d="M106.4,377.8 Q106.4,379.2 103.1,381.8" fill="none" stroke="#fbd8c4" stroke-width="0.7" opacity="0.8"/><path d="M103.0,325.4 103.1,325.5 103.1,325.6 103.2,325.8 103.3,325.9 103.3,326.0 103.4,326.1 103.5,326.2 105.0,327.3 105.1,327.4 105.2,327.5 105.3,327.5 105.5,327.6 105.6,327.6 105.7,327.6 105.9,327.6 106.0,327.6 106.1,327.6 106.3,327.6 106.4,327.5 106.5,327.4 106.6,327.4 106.7,327.3 106.8,327.2 106.9,327.1 107.0,327.0 107.1,326.9 107.1,326.8 107.2,326.6 107.2,326.5 107.2,326.4 107.3,326.2 107.2,326.1 107.2,326.0 107.2,325.8 106.9,324.9 106.9,324.9 106.9,324.7 106.9,324.7 106.6,323.8 106.6,323.6 106.5,323.5 106.5,323.4 106.4,323.3 106.3,323.2 106.2,323.1 106.1,323.0 106.0,322.9 105.9,322.9 105.7,322.8 105.6,322.8 105.5,322.7 105.3,322.7 105.2,322.7 105.1,322.7 104.9,322.8 104.8,322.8 104.7,322.9 104.6,322.9 104.4,323.0 104.3,323.1 103.4,323.9 103.3,324.0 103.3,324.1 103.2,324.2 103.1,324.3 103.1,324.4 103.0,324.6 103.0,324.7 103.0,324.8 103.0,325.0 103.0,325.1 103.0,325.2Z" fill="#f0aa8a" stroke="#e0784c" stroke-width="0.9"/><path d="M107.4,369.4 107.5,369.6 107.5,369.7 107.6,369.8 107.6,370.0 107.7,370.1 107.8,370.2 107.9,370.3 108.0,370.4 108.1,370.4 108.2,370.5 108.4,370.6 108.5,370.6 108.6,370.6 108.8,370.6 108.9,370.6 109.0,370.6 109.2,370.6 109.3,370.5 109.4,370.5 109.5,370.4 109.7,370.4 115.8,365.8 115.9,365.7 116.0,365.6 116.1,365.5 116.2,365.3 116.2,365.2 116.3,365.1 116.3,364.9 116.4,364.8 116.4,364.7 116.4,364.5 116.3,364.4 116.3,364.2 115.2,360.7 115.2,360.5 115.1,360.4 115.0,360.3 115.0,360.2 114.9,360.1 114.8,360.0 114.7,359.9 114.5,359.8 114.4,359.8 114.3,359.7 114.2,359.7 114.0,359.7 109.3,359.2 109.2,359.2 109.0,359.2 108.9,359.2 108.8,359.2 108.7,359.3 108.5,359.3 108.4,359.4 108.3,359.5 106.8,360.7 106.7,360.8 106.6,360.9 106.5,361.0 106.4,361.1 106.4,361.2 106.3,361.4 106.3,361.5 106.3,361.6 106.2,361.7 106.2,361.9 106.3,362.0Z" fill="#f3b294" stroke="#e0784c" stroke-width="0.9"/><path d="M108.2,362.6 109.2,368.7 114.2,365.0 113.4,362.2 109.3,361.8Z" fill="#e8875e" opacity="0.4"/><path d="M109.3,361.6 Q110.0,363.4 112.5,366.9" fill="none" stroke="#fbd8c4" stroke-width="0.7" opacity="0.8"/><path d="M110.6,391.5 110.7,391.6 110.8,391.7 110.9,391.8 111.1,391.9 111.2,391.9 111.3,392.0 112.1,392.1 112.1,392.1 112.3,392.2 112.4,392.2 112.5,392.2 112.7,392.2 112.8,392.2 112.9,392.1 113.0,392.1 113.2,392.0 113.3,392.0 113.4,391.9 113.5,391.8 113.6,391.7 113.7,391.6 113.7,391.5 113.8,391.4 113.8,391.2 113.9,391.1 115.5,384.3 115.5,384.2 115.5,384.0 115.5,383.9 115.5,383.8 115.5,383.6 115.4,383.5 115.4,383.4 115.3,383.2 115.2,383.1 115.2,383.0 115.1,382.9 114.9,382.8 114.8,382.8 114.7,382.7 114.0,382.4 113.9,382.4 113.8,382.3 113.6,382.3 113.5,382.3 113.4,382.3 113.2,382.3 113.1,382.3 113.0,382.4 112.8,382.4 112.7,382.5 112.6,382.6 112.5,382.6 112.4,382.7 108.4,387.2 108.3,387.3 108.2,387.4 108.1,387.6 108.1,387.7 108.1,387.8 108.0,388.0 108.0,388.1 108.0,388.2 108.0,388.4 108.1,388.5 108.1,388.6 108.2,388.8 108.2,388.9 108.3,389.0 108.4,389.1Z" fill="#f5ba9e" stroke="#e0784c" stroke-width="0.9"/><path d="M109.9,388.4 111.7,390.3 111.8,390.4 113.0,385.0Z" fill="#e8875e" opacity="0.4"/><path d="M113.7,385.6 Q113.1,386.9 110.5,389.0" fill="none" stroke="#fbd8c4" stroke-width="0.7" opacity="0.8"/><path d="M105.6,342.1 105.6,342.2 105.5,342.3 105.5,342.5 105.5,342.6 105.5,342.8 105.6,342.9 105.6,343.0 105.7,343.2 105.7,343.3 105.8,343.4 105.9,343.5 106.0,343.6 106.1,343.7 106.8,344.1 106.9,344.2 107.0,344.3 107.1,344.3 107.3,344.3 107.4,344.4 107.6,344.4 107.7,344.4 107.9,344.3 108.0,344.3 115.0,342.0 115.1,341.9 115.2,341.9 115.3,341.8 115.4,341.7 115.5,341.6 115.6,341.5 115.7,341.4 115.8,341.3 115.8,341.2 115.9,341.0 115.9,340.9 115.9,340.8 115.9,340.6 115.9,340.5 115.9,340.4 115.8,340.2 115.8,340.1 115.7,340.0 115.7,339.9 115.6,339.8 115.4,339.6 115.4,339.6 115.4,339.5 115.4,339.5 115.3,339.4 115.3,339.3 115.2,339.3 115.2,339.3 114.2,337.9 114.2,337.9 114.2,337.9 114.2,337.9 114.0,337.7 114.0,337.7 114.0,337.7 114.0,337.7 113.0,336.2 113.0,336.2 113.0,336.2 113.0,336.2 112.9,336.0 112.9,336.0 112.9,336.0 112.9,336.0 112.0,334.6 111.9,334.5 111.8,334.4 111.7,334.3 111.6,334.2 111.5,334.1 111.4,334.0 111.3,334.0 111.1,334.0 111.0,333.9 110.9,333.9 110.8,333.9 109.5,333.9 109.3,333.9 109.2,334.0 109.0,334.0 108.9,334.1 108.8,334.1 108.7,334.2 108.6,334.3 108.5,334.4 108.4,334.5 108.3,334.6 108.2,334.7 108.2,334.9Z" fill="#f0aa8a" stroke="#e0784c" stroke-width="0.9"/><path d="M108.4,342.6 114.2,340.7 113.3,339.5 113.3,339.5 113.3,339.5 113.3,339.5 113.3,339.5 113.3,339.5 113.3,339.5 113.3,339.5 113.3,339.5 113.3,339.5 113.3,339.4 113.3,339.4 113.3,339.4 113.3,339.4 113.3,339.4 113.3,339.4 113.2,339.3 113.2,339.3 113.1,339.3 113.1,339.3 113.1,339.2 113.1,339.2 113.1,339.2 113.1,339.2 113.1,339.2 113.1,339.2 113.1,339.2 113.1,339.2 113.1,339.2 113.1,339.2 113.1,339.2 113.1,339.2 112.1,337.8 112.1,337.8 112.1,337.7 112.1,337.7 112.1,337.7 112.1,337.7 112.1,337.7 112.1,337.7 112.1,337.7 112.1,337.7 112.1,337.7 112.1,337.7 112.1,337.7 112.1,337.7 112.1,337.7 112.1,337.7 112.0,337.5 112.0,337.5 112.0,337.5 112.0,337.5 112.0,337.5 112.0,337.5 112.0,337.5 112.0,337.5 111.9,337.5 111.9,337.5 111.9,337.5 111.9,337.5 111.9,337.5 111.9,337.5 111.9,337.5 111.9,337.5 111.2,336.3 110.6,336.3Z" fill="#e8875e" opacity="0.4"/><path d="M113.2,339.3 Q112.1,339.5 107.6,339.7" fill="none" stroke="#fbd8c4" stroke-width="0.7" opacity="0.8"/><path d="M110.0,353.9 110.0,354.0 110.1,354.2 110.1,354.3 110.2,354.4 110.2,354.5 110.3,354.6 110.4,354.7 110.5,354.8 110.6,354.9 110.8,355.0 110.9,355.0 111.0,355.1 111.1,355.1 111.3,355.1 115.0,355.5 115.2,355.5 115.3,355.5 115.5,355.5 115.6,355.5 115.7,355.4 115.8,355.4 116.0,355.3 116.1,355.2 116.2,355.1 118.6,352.8 118.7,352.7 118.7,352.6 118.8,352.5 118.9,352.3 118.9,352.2 119.0,352.1 119.0,352.0 119.0,351.8 119.0,351.7 119.0,351.6 118.9,351.4 118.9,351.3 118.8,351.2 116.7,346.8 116.6,346.7 116.5,346.6 116.5,346.5 116.4,346.4 116.3,346.3 116.2,346.2 116.0,346.1 115.9,346.1 115.8,346.1 115.7,346.0 115.5,346.0 115.4,346.0 115.3,346.0 115.1,346.0 115.0,346.1 110.5,347.6 110.4,347.6 110.2,347.7 110.1,347.8 110.0,347.8 109.9,347.9 109.8,348.0 109.8,348.1 109.7,348.3 109.6,348.4 109.6,348.5 109.6,348.6 109.5,348.8 109.5,348.9 109.5,349.0Z" fill="#f0aa8a" stroke="#e0784c" stroke-width="0.9"/><path d="M111.4,352.9 114.4,353.2 116.3,351.4 114.5,347.9 111.0,349.0Z" fill="#e8875e" opacity="0.4"/><path d="M116.5,349.7 Q113.2,349.4 111.5,352.2" fill="none" stroke="#fbd8c4" stroke-width="0.7" opacity="0.8"/><path d="M113.3,373.3 113.2,373.4 113.1,373.5 113.0,373.6 112.9,373.7 112.9,373.8 112.8,373.9 112.8,374.0 112.7,374.2 112.7,374.3 112.7,374.5 112.7,374.6 112.8,374.7 112.8,374.8 112.8,375.0 112.9,375.1 114.0,377.0 114.1,377.2 114.2,377.3 114.3,377.4 114.4,377.5 114.6,377.5 114.7,377.6 116.5,378.4 116.7,378.5 116.8,378.5 116.9,378.5 117.1,378.6 117.2,378.6 117.3,378.5 117.5,378.5 117.6,378.5 117.7,378.4 117.8,378.4 117.9,378.3 118.0,378.2 118.1,378.1 123.0,372.9 123.1,372.8 123.1,372.7 123.2,372.5 123.3,372.4 123.3,372.3 123.3,372.2 123.4,372.0 123.4,371.9 123.4,371.8 123.3,371.6 123.3,371.5 123.2,371.3 123.2,371.1 123.1,371.0 123.0,370.9 123.0,370.8 122.9,370.7 122.7,370.6 122.6,370.5 122.5,370.4 120.0,369.2 119.9,369.1 119.7,369.1 119.6,369.1 119.5,369.1 119.3,369.1 119.2,369.1 119.0,369.1 118.9,369.1 118.8,369.2 118.7,369.3 118.5,369.3Z" fill="#f1ae90" stroke="#e0784c" stroke-width="0.9"/><path d="M114.5,374.9 115.3,376.3 115.3,376.3 115.3,376.3 116.5,376.8 120.4,372.5 118.8,371.7Z" fill="#e8875e" opacity="0.4"/><path d="M118.6,371.2 Q118.5,373.4 117.3,376.3" fill="none" stroke="#fbd8c4" stroke-width="0.7" opacity="0.8"/><path d="M120.3,364.1 120.3,364.2 120.4,364.4 120.5,364.5 120.5,364.6 120.6,364.7 120.8,364.8 120.9,364.9 121.0,364.9 123.6,366.2 123.8,366.3 123.9,366.3 124.0,366.3 124.1,366.4 124.3,366.4 124.4,366.4 124.5,366.3 124.7,366.3 124.8,366.3 124.9,366.2 125.0,366.1 125.1,366.0 125.2,366.0 125.3,365.9 127.9,362.8 128.0,362.7 128.1,362.5 128.1,362.4 128.2,362.3 128.2,362.2 128.2,362.0 128.2,361.9 128.2,361.7 128.2,361.6 128.2,361.5 128.1,361.3 125.6,355.4 125.6,355.3 125.5,355.1 125.4,355.0 125.3,354.9 125.2,354.8 125.1,354.8 125.0,354.7 124.9,354.6 124.7,354.6 124.6,354.6 124.5,354.5 123.3,354.4 123.1,354.4 123.0,354.4 122.9,354.5 122.7,354.5 122.6,354.5 122.5,354.6 122.4,354.7 122.3,354.7 122.2,354.8 119.1,357.8 119.1,357.9 119.0,358.0 118.9,358.1 118.8,358.3 118.8,358.4 118.8,358.5 118.7,358.7 118.7,358.8 118.7,358.9 118.8,359.1 118.8,359.2Z" fill="#f5ba9e" stroke="#e0784c" stroke-width="0.9"/><path d="M121.2,358.0 122.5,362.3 124.5,363.3 126.4,361.1 124.3,356.0 123.4,355.9Z" fill="#e8875e" opacity="0.4"/><path d="M120.8,359.0 Q123.2,361.0 126.1,361.8" fill="none" stroke="#fbd8c4" stroke-width="0.7" opacity="0.8"/><path d="M118.1,390.9 118.1,391.0 118.1,391.1 118.1,391.3 118.1,391.4 118.1,391.5 118.2,391.7 118.2,391.8 118.3,391.9 118.4,392.0 118.4,392.1 118.5,392.2 118.7,392.3 118.8,392.4 118.9,392.5 119.0,392.5 119.2,392.5 119.3,392.6 119.4,392.6 119.6,392.6 123.2,392.2 123.2,392.2 124.1,392.1 124.2,392.1 124.4,392.1 124.5,392.0 124.6,392.0 124.7,391.9 124.8,391.8 124.9,391.7 125.0,391.6 125.1,391.5 125.2,391.4 125.2,391.3 125.3,391.1 125.3,391.0 125.3,390.9 125.4,389.3 125.4,389.2 125.4,389.1 125.4,388.9 125.4,388.8 125.3,388.6 125.2,388.5 125.2,388.4 125.1,388.3 125.0,388.2 124.8,388.1 124.7,388.0 121.1,386.0 121.0,385.9 120.8,385.9 120.7,385.8 120.6,385.8 120.4,385.8 120.3,385.8 120.2,385.8 120.0,385.8 119.9,385.9 119.8,385.9 119.7,386.0 119.6,386.1 119.5,386.2 119.4,386.3 119.3,386.4 119.2,386.5 119.1,386.6 119.1,386.7 119.0,386.9Z" fill="#f0aa8a" stroke="#e0784c" stroke-width="0.9"/><path d="M120.8,389.9 123.5,389.6 123.5,389.6 123.9,389.6 123.9,389.3 121.3,387.8Z" fill="#e8875e" opacity="0.4"/><path d="M122.9,387.9 Q122.9,390.9 120.3,391.2" fill="none" stroke="#fbd8c4" stroke-width="0.7" opacity="0.8"/><path d="M121.7,380.3 121.6,380.4 121.6,380.5 121.5,380.6 121.4,380.8 121.4,380.9 121.4,381.0 121.4,381.2 121.4,381.3 121.4,381.5 121.4,381.6 121.5,381.7 121.5,381.9 121.6,382.0 121.7,382.1 121.7,382.2 121.8,382.3 122.0,382.4 122.1,382.5 126.7,385.1 126.8,385.2 127.0,385.2 127.1,385.2 127.2,385.3 127.4,385.3 127.5,385.3 127.6,385.3 127.8,385.2 127.9,385.2 128.0,385.1 128.1,385.1 131.8,382.9 131.9,382.8 132.1,382.7 132.2,382.6 132.2,382.5 132.3,382.4 132.4,382.3 132.4,382.1 132.5,382.0 132.5,381.9 132.5,381.7 132.6,378.8 132.6,378.7 132.5,378.5 132.5,378.4 132.5,378.3 132.4,378.1 132.3,378.0 132.2,377.9 132.1,377.8 132.0,377.7 131.9,377.6 131.8,377.6 127.6,375.4 127.5,375.4 127.3,375.3 127.2,375.3 127.1,375.3 126.9,375.3 126.8,375.3 126.7,375.3 126.5,375.4 126.4,375.4 126.3,375.5 126.2,375.6 126.0,375.6 126.0,375.7Z" fill="#f0aa8a" stroke="#e0784c" stroke-width="0.9"/><path d="M123.4,380.7 126.5,382.5 129.6,380.6 129.7,378.4 126.8,377.0Z" fill="#e8875e" opacity="0.4"/><path d="M125.8,377.9 Q126.2,379.2 129.0,382.9" fill="none" stroke="#fbd8c4" stroke-width="0.7" opacity="0.8"/><path d="M127.5,371.2 127.5,371.3 127.6,371.5 127.7,371.6 127.8,371.7 127.9,371.8 128.0,371.9 128.1,372.0 128.2,372.0 133.4,374.7 133.6,374.7 133.7,374.8 133.8,374.8 133.9,374.8 134.1,374.8 134.2,374.8 134.3,374.8 134.5,374.8 134.6,374.7 134.7,374.7 134.8,374.6 135.0,374.5 135.1,374.4 135.2,374.3 135.3,374.2 135.4,374.1 135.4,374.0 135.5,373.8 135.5,373.7 137.5,366.3 137.5,366.2 137.5,366.1 137.5,365.9 137.5,365.8 137.5,365.7 137.5,365.5 137.4,365.4 137.4,365.3 137.3,365.2 137.2,365.1 137.1,365.0 137.0,364.9 136.9,364.8 136.8,364.7 136.7,364.7 136.5,364.6 136.4,364.6 136.3,364.6 132.0,364.2 131.8,364.2 131.7,364.2 131.6,364.2 131.4,364.3 131.3,364.3 131.2,364.4 131.1,364.4 131.0,364.5 130.9,364.6 130.8,364.7 127.4,368.7 127.3,368.8 127.3,369.0 127.2,369.1 127.2,369.2 127.1,369.4 127.1,369.5 127.1,369.6 127.1,369.8 127.1,369.9 127.1,370.0Z" fill="#f3b294" stroke="#e0784c" stroke-width="0.9"/><path d="M129.0,369.5 129.2,370.1 133.6,372.3 135.2,366.2 131.9,365.9Z" fill="#e8875e" opacity="0.4"/><path d="M134.1,366.6 Q130.9,368.0 131.2,371.8" fill="none" stroke="#fbd8c4" stroke-width="0.7" opacity="0.8"/><path d="M128.8,390.1 128.8,390.3 128.8,390.4 128.8,390.6 128.9,390.7 128.9,390.8 129.0,391.0 129.1,391.1 129.2,391.2 129.3,391.3 129.4,391.4 129.5,391.4 129.6,391.5 129.7,391.6 129.9,391.6 130.0,391.6 130.1,391.7 130.3,391.7 130.4,391.6 133.2,391.2 133.2,391.2 136.5,390.7 136.6,390.7 136.7,390.6 136.9,390.6 137.0,390.5 137.1,390.4 137.2,390.3 137.3,390.2 137.4,390.1 137.5,390.0 137.5,389.9 137.6,389.8 137.6,389.6 137.6,389.5 137.6,389.4 137.6,389.2 137.6,389.1 137.6,389.0 137.6,388.8 137.5,388.7 137.4,388.6 137.4,388.5 137.3,388.4 137.2,388.3 134.7,386.1 134.6,386.0 134.5,385.9 134.4,385.9 134.3,385.8 134.1,385.8 134.0,385.7 133.9,385.7 133.7,385.7 133.6,385.7 133.5,385.8 133.3,385.8 133.2,385.9 133.1,385.9 129.6,388.0 129.5,388.1 129.4,388.1 129.3,388.2 129.2,388.3 129.1,388.4 129.0,388.6 129.0,388.7 128.9,388.8 128.9,389.0 128.9,389.1Z" fill="#f5ba9e" stroke="#e0784c" stroke-width="0.9"/><path d="M130.4,389.3 131.9,389.1 131.9,389.1 133.9,388.7 132.8,387.8 130.4,389.2Z" fill="#e8875e" opacity="0.4"/><path d="M131.8,387.4 Q132.8,387.9 134.4,390.5" fill="none" stroke="#fbd8c4" stroke-width="0.7" opacity="0.8"/><path d="M132.4,351.6 132.2,351.6 132.1,351.6 131.9,351.6 131.8,351.6 131.7,351.6 131.5,351.7 131.4,351.7 131.3,351.8 131.2,351.9 129.7,352.9 129.6,353.0 129.5,353.1 129.4,353.2 129.3,353.3 129.2,353.4 129.2,353.5 129.1,353.6 129.1,353.8 129.1,353.9 129.1,354.0 129.1,354.2 129.1,354.3 129.2,354.4 129.2,354.6 131.4,359.9 131.5,360.1 131.6,360.2 131.6,360.3 131.7,360.4 131.8,360.5 132.0,360.6 132.1,360.7 132.2,360.7 132.3,360.8 132.5,360.8 132.6,360.8 136.2,361.1 136.3,361.1 136.5,361.1 136.6,361.1 136.7,361.0 136.9,361.0 137.0,360.9 137.1,360.9 137.2,360.8 137.3,360.7 137.4,360.6 137.5,360.5 137.5,360.3 137.6,360.2 137.6,360.1 137.7,360.0 137.7,359.8 138.2,353.9 138.2,353.8 138.2,353.6 138.1,353.5 138.1,353.3 138.0,353.2 138.0,353.1 137.9,353.0 137.8,352.9 137.7,352.8 137.6,352.7 137.5,352.6 137.4,352.5 137.2,352.5 137.1,352.4 137.0,352.4 136.8,352.4 136.8,352.4 136.7,352.4 136.7,352.4 135.4,352.3 135.4,352.3 135.3,352.3 135.3,352.3 134.7,352.2 134.7,352.2 134.6,352.2 134.6,352.1 132.9,351.8 132.9,351.8 132.8,351.8 132.8,351.8 132.4,351.7 132.4,351.7Z" fill="#f5ba9e" stroke="#e0784c" stroke-width="0.9"/><path d="M132.2,354.4 134.1,358.9 136.2,359.1 136.6,354.4 136.2,354.4 136.2,354.4 136.1,354.4 136.1,354.4 136.1,354.4 136.1,354.4 136.1,354.4 136.1,354.4 136.0,354.3 136.0,354.3 136.0,354.3 136.0,354.3 135.9,354.3 135.9,354.3 135.9,354.3 135.9,354.3 135.3,354.3 135.3,354.2 135.3,354.2 135.3,354.2 135.3,354.2 135.3,354.2 135.3,354.2 135.2,354.2 135.2,354.2 135.2,354.2 135.1,354.2 135.1,354.2 135.1,354.2 135.1,354.2 135.1,354.2 135.1,354.2 133.4,353.9 133.4,353.9 133.4,353.8 133.4,353.8 133.4,353.8 133.4,353.8 133.4,353.8 133.4,353.8 133.3,353.8 133.3,353.8 133.3,353.8 133.3,353.8 133.3,353.8 133.3,353.8 133.3,353.8 133.3,353.8 133.0,353.7Z" fill="#e8875e" opacity="0.4"/><path d="M132.4,354.0 Q133.2,356.3 135.6,358.5" fill="none" stroke="#fbd8c4" stroke-width="0.7" opacity="0.8"/><path d="M139.8,372.1 139.8,372.3 139.8,372.4 139.8,372.5 139.8,372.7 139.8,372.8 139.9,372.9 139.9,373.1 140.0,373.2 140.0,373.3 140.1,373.4 140.2,373.5 140.3,373.6 140.4,373.7 140.5,373.7 140.7,373.8 140.8,373.8 140.9,373.9 147.6,375.1 147.7,375.1 147.8,375.1 148.0,375.1 148.1,375.1 148.2,375.0 148.4,375.0 148.5,374.9 148.6,374.9 148.7,374.8 148.8,374.7 148.9,374.6 149.0,374.5 149.1,374.3 149.1,374.2 149.2,374.1 149.2,374.0 149.2,373.8 149.2,373.7 149.2,373.5 148.6,368.3 148.5,368.1 148.5,368.0 148.4,367.9 148.4,367.7 148.3,367.6 148.2,367.5 148.1,367.4 148.0,367.3 147.9,367.2 147.8,367.2 147.6,367.1 147.5,367.1 147.4,367.1 142.6,366.4 142.5,366.4 142.4,366.4 142.2,366.4 142.1,366.4 142.0,366.4 141.8,366.5 141.7,366.6 141.6,366.6 141.5,366.7 141.4,366.8 141.3,366.9 141.2,367.0 141.2,367.2 141.1,367.3 141.1,367.4Z" fill="#f5ba9e" stroke="#e0784c" stroke-width="0.9"/><path d="M142.8,372.6 147.7,373.5 147.2,369.6 143.8,369.1Z" fill="#e8875e" opacity="0.4"/><path d="M144.0,368.2 Q145.8,371.3 145.4,373.4" fill="none" stroke="#fbd8c4" stroke-width="0.7" opacity="0.8"/><path d="M136.4,381.9 136.4,382.0 136.4,382.1 136.4,382.3 136.4,382.4 136.5,382.5 136.6,382.6 136.6,382.7 136.7,382.8 136.8,382.9 140.8,386.5 141.0,386.6 141.1,386.7 141.2,386.8 141.3,386.8 141.4,386.9 141.6,386.9 141.7,386.9 143.4,387.0 143.6,387.0 143.7,387.0 143.8,386.9 144.0,386.9 144.1,386.8 144.2,386.8 144.3,386.7 144.4,386.6 145.7,385.5 145.8,385.4 145.9,385.3 146.0,385.2 146.0,385.1 146.1,384.9 146.1,384.8 147.1,380.8 147.1,380.7 147.1,380.6 147.1,380.4 147.1,380.3 147.0,380.1 147.0,380.0 146.9,379.9 146.9,379.8 146.8,379.6 146.7,379.5 146.6,379.4 146.5,379.4 146.4,379.3 146.2,379.2 146.1,379.2 146.0,379.1 138.1,377.7 137.9,377.7 137.8,377.7 137.7,377.7 137.5,377.7 137.4,377.7 137.3,377.8 137.2,377.8 137.0,377.9 136.9,378.0 136.8,378.1 136.7,378.2 136.7,378.3 136.6,378.4 136.5,378.5 136.5,378.6 136.4,378.8 136.4,378.9 136.4,379.0Z" fill="#f5ba9e" stroke="#e0784c" stroke-width="0.9"/><path d="M138.3,379.3 138.3,380.9 142.0,384.2 143.2,384.3 144.2,383.5 144.9,380.5Z" fill="#e8875e" opacity="0.4"/><path d="M140.6,379.3 Q141.6,380.9 142.7,384.8" fill="none" stroke="#fbd8c4" stroke-width="0.7" opacity="0.8"/><path d="M141.2,360.9 141.2,361.0 141.2,361.2 141.3,361.3 141.3,361.5 141.4,361.6 141.4,361.7 141.5,361.8 141.6,361.9 141.7,362.0 141.8,362.1 141.9,362.2 142.0,362.3 142.2,362.3 142.3,362.4 142.4,362.4 148.9,363.3 149.0,363.3 149.1,363.3 149.3,363.3 149.4,363.3 149.5,363.3 149.7,363.2 149.8,363.1 149.9,363.1 150.0,363.0 150.1,362.9 151.2,361.6 151.3,361.5 151.4,361.4 151.5,361.2 151.5,361.1 151.6,361.0 151.6,360.9 151.6,360.7 151.6,360.6 151.6,360.4 151.6,360.3 151.5,360.2 148.7,352.3 148.6,352.1 148.6,352.0 148.5,351.9 148.4,351.8 148.3,351.7 148.2,351.6 148.1,351.5 147.9,351.4 146.7,350.9 146.5,350.8 146.4,350.8 146.3,350.8 146.1,350.8 146.0,350.8 145.8,350.8 145.7,350.8 143.5,351.4 143.4,351.4 143.3,351.5 143.2,351.5 143.2,351.5 143.1,351.5 142.8,351.6 142.7,351.7 142.6,351.7 142.5,351.8 142.4,351.9 142.3,352.0 142.2,352.1 142.1,352.2 142.0,352.3 142.0,352.5 141.9,352.6 141.9,352.7 141.9,352.9Z" fill="#f0aa8a" stroke="#e0784c" stroke-width="0.9"/><path d="M143.5,360.2 149.0,361.0 149.7,360.2 147.1,352.9 146.3,352.5 144.3,353.0 144.3,353.0 144.2,353.1 144.2,353.1 144.1,353.1 144.1,353.1 144.1,353.1 144.1,353.1 144.1,353.1 144.1,353.1 144.0,353.1Z" fill="#e8875e" opacity="0.4"/><path d="M149.2,356.4 Q143.8,355.7 142.8,358.6" fill="none" stroke="#fbd8c4" stroke-width="0.7" opacity="0.8"/><path d="M150.6,384.1 150.5,384.3 150.5,384.4 150.5,384.6 150.5,384.7 150.6,384.8 150.6,385.0 150.7,385.1 150.7,385.2 150.8,385.3 150.9,385.4 151.0,385.5 151.1,385.6 151.2,385.7 151.4,385.7 153.6,386.7 153.7,386.8 153.9,386.8 154.0,386.8 154.2,386.9 154.3,386.8 154.5,386.8 158.5,386.0 158.6,385.9 158.8,385.9 158.9,385.8 159.0,385.7 159.1,385.6 159.2,385.5 159.3,385.4 159.4,385.3 159.5,385.2 159.5,385.1 159.6,384.9 159.6,384.8 159.6,384.7 159.6,384.5 159.6,384.4 159.6,384.3 159.5,384.1 158.0,379.9 158.0,379.8 157.9,379.7 157.8,379.5 157.8,379.4 157.7,379.3 157.6,379.3 157.4,379.2 157.3,379.1 157.2,379.1 157.1,379.0 156.9,379.0 153.2,378.4 153.1,378.4 152.9,378.4 152.8,378.4 152.7,378.4 152.5,378.5 152.4,378.5 152.3,378.6 152.2,378.7 152.1,378.8 152.0,378.9 151.9,379.0 151.8,379.1 151.7,379.2 151.7,379.3 151.6,379.5Z" fill="#f0aa8a" stroke="#e0784c" stroke-width="0.9"/><path d="M152.3,384.5 154.2,385.3 154.2,385.3 154.2,385.3 157.0,384.7 155.9,381.7 153.1,381.2Z" fill="#e8875e" opacity="0.4"/><path d="M155.4,380.2 Q154.7,384.4 154.4,385.3" fill="none" stroke="#fbd8c4" stroke-width="0.7" opacity="0.8"/><path d="M154.5,342.8 154.4,342.9 154.4,343.0 154.3,343.1 154.3,343.3 154.2,343.4 154.2,343.5 154.2,343.7 154.3,343.8 154.3,343.9 154.3,344.1 154.4,344.2 154.5,344.3 154.5,344.4 154.6,344.5 154.7,344.6 154.8,344.7 155.0,344.8 155.1,344.8 155.2,344.9 155.3,344.9 155.5,344.9 155.6,345.0 155.8,345.0 155.9,344.9 156.0,344.9 156.2,344.9 156.3,344.8 158.0,343.9 158.1,343.8 158.2,343.8 158.3,343.7 158.4,343.6 158.5,343.5 158.6,343.4 158.6,343.3 158.7,343.1 159.0,342.3 159.0,342.2 159.1,342.0 159.1,341.9 159.1,341.7 159.0,341.6 159.0,341.5 158.7,340.4 158.7,340.3 158.6,340.2 158.6,340.1 158.5,339.9 158.4,339.8 158.3,339.8 158.2,339.7 158.1,339.6 157.9,339.5 157.8,339.5 157.7,339.4 157.6,339.4 157.4,339.4 157.3,339.4 157.1,339.4 157.0,339.5 156.9,339.5 156.8,339.6 156.6,339.6 156.5,339.7 156.4,339.8 156.3,339.9 156.2,340.0 156.2,340.1 155.8,340.7 155.8,340.7 155.8,340.7 155.8,340.7 155.7,340.9 155.7,340.9 155.7,341.0 155.7,341.0 155.0,342.0 155.0,342.0 155.0,342.1 155.0,342.1 154.8,342.3 154.8,342.3 154.8,342.3 154.8,342.3Z" fill="#f1ae90" stroke="#e0784c" stroke-width="0.9"/><path d="M152.4,365.4 152.3,365.5 152.2,365.6 152.1,365.7 152.1,365.8 152.1,366.0 152.0,366.1 152.0,366.2 152.0,366.4 152.0,366.5 152.9,373.7 152.9,373.9 153.0,374.0 153.0,374.1 153.1,374.3 153.2,374.4 153.2,374.5 153.3,374.6 153.5,374.7 153.6,374.8 153.7,374.8 153.8,374.9 153.9,374.9 154.1,375.0 158.3,375.6 158.5,375.6 158.6,375.6 158.7,375.6 158.8,375.6 159.0,375.6 159.1,375.5 159.2,375.5 159.3,375.4 164.4,372.0 164.5,371.9 164.6,371.8 164.7,371.7 164.8,371.6 164.8,371.5 164.9,371.4 164.9,371.3 165.0,371.1 165.0,371.0 165.0,370.9 165.1,368.9 165.1,368.8 165.1,368.7 165.0,368.5 165.0,368.4 164.9,368.3 164.9,368.2 164.8,368.0 164.7,367.9 164.6,367.8 164.5,367.8 158.0,363.1 157.9,363.1 157.8,363.0 157.7,362.9 157.5,362.9 157.4,362.9 157.3,362.9 157.2,362.9 155.2,362.9 155.0,362.9 154.9,362.9 154.8,363.0 154.6,363.0 154.5,363.1 154.4,363.2 154.3,363.3 154.2,363.4Z" fill="#f1ae90" stroke="#e0784c" stroke-width="0.9"/><path d="M153.8,367.2 154.6,373.5 158.5,374.1 162.8,371.2 162.8,369.9 156.8,365.6 155.3,365.6Z" fill="#e8875e" opacity="0.4"/><path d="M154.6,367.6 Q158.4,370.6 161.2,371.2" fill="none" stroke="#fbd8c4" stroke-width="0.7" opacity="0.8"/><path d="M155.1,357.5 155.2,357.7 155.2,357.8 155.3,357.9 155.4,358.0 155.5,358.1 155.6,358.2 155.7,358.3 155.8,358.3 156.0,358.4 156.1,358.4 156.2,358.4 156.4,358.5 156.5,358.5 156.6,358.4 156.8,358.4 156.9,358.4 157.0,358.3 157.2,358.3 157.3,358.2 157.4,358.1 157.5,358.0 157.6,357.9 160.9,353.4 161.0,353.3 161.1,353.2 161.1,353.1 161.1,352.9 161.2,352.8 161.2,352.7 161.2,352.6 161.2,352.4 161.2,352.3 161.1,352.2 161.1,352.0 161.0,351.9 159.7,349.6 159.7,349.5 159.6,349.3 159.5,349.2 159.4,349.2 159.3,349.1 159.2,349.0 159.0,348.9 158.9,348.9 158.8,348.9 158.7,348.8 158.5,348.8 158.4,348.8 158.2,348.9 158.1,348.9 158.0,348.9 157.9,349.0 154.1,351.0 153.9,351.1 153.8,351.1 153.7,351.2 153.6,351.3 153.6,351.4 153.5,351.5 153.4,351.7 153.4,351.8 153.3,351.9 153.3,352.0 153.3,352.2 153.3,352.3 153.3,352.4 153.3,352.6 153.4,352.7Z" fill="#f5ba9e" stroke="#e0784c" stroke-width="0.9"/><path d="M155.4,352.3 156.6,355.6 159.1,352.4 158.3,350.9Z" fill="#e8875e" opacity="0.4"/><path d="M155.9,351.3 Q158.7,353.3 158.5,355.3" fill="none" stroke="#fbd8c4" stroke-width="0.7" opacity="0.8"/><path d="M163.6,343.7 163.4,343.7 163.3,343.7 163.2,343.7 163.0,343.8 162.9,343.8 162.8,343.9 162.7,343.9 162.5,344.0 162.4,344.1 162.4,344.2 162.3,344.3 162.2,344.4 162.1,344.6 162.1,344.7 162.1,344.8 162.0,345.0 162.0,345.1 162.1,345.2 162.1,345.4 162.1,345.5 162.2,345.6 162.2,345.8 165.1,351.0 165.1,351.1 165.2,351.2 165.3,351.3 165.4,351.4 165.5,351.5 165.6,351.5 165.8,351.6 165.9,351.6 166.0,351.7 171.4,352.6 171.5,352.6 171.7,352.7 171.8,352.6 172.0,352.6 172.1,352.6 172.2,352.5 172.4,352.5 172.5,352.4 172.6,352.3 172.7,352.2 172.8,352.1 172.8,352.0 173.1,351.6 173.2,351.4 173.2,351.3 173.3,351.1 173.3,351.0 173.3,350.9 173.3,350.7 173.3,350.6 173.3,350.4 171.8,345.3 171.8,345.2 171.7,345.0 171.6,344.9 171.6,344.8 171.5,344.7 171.4,344.6 171.2,344.5 171.1,344.4 171.0,344.4 170.9,344.3 170.7,344.3 170.6,344.3Z" fill="#f5ba9e" stroke="#e0784c" stroke-width="0.9"/><path d="M164.0,345.2 166.0,348.8 170.5,349.6 169.4,345.7Z" fill="#e8875e" opacity="0.4"/><path d="M169.4,345.4 Q169.8,347.0 166.6,350.5" fill="none" stroke="#fbd8c4" stroke-width="0.7" opacity="0.8"/><path d="M162.2,359.6 162.1,359.8 162.0,359.9 162.0,360.0 161.9,360.1 161.9,360.3 161.9,360.4 161.9,360.6 161.9,360.7 161.9,360.8 162.0,361.0 162.0,361.1 162.1,361.2 162.2,361.3 162.2,361.4 162.3,361.5 162.5,361.6 165.7,364.0 165.9,364.0 166.0,364.1 166.1,364.2 166.3,364.2 166.4,364.2 166.5,364.2 166.7,364.2 166.8,364.2 166.9,364.2 167.1,364.1 167.2,364.1 167.3,364.0 167.4,363.9 171.2,360.9 171.3,360.8 171.4,360.7 171.5,360.6 171.6,360.5 171.6,360.3 171.7,360.2 171.7,360.1 171.7,359.9 171.8,359.8 171.8,359.7 171.7,359.5 171.3,357.4 171.3,357.2 171.3,357.1 171.2,357.0 171.1,356.9 171.0,356.7 170.9,356.6 170.8,356.5 170.7,356.5 170.6,356.4 170.5,356.3 170.3,356.3 170.2,356.2 166.2,355.5 166.1,355.5 165.9,355.5 165.8,355.5 165.6,355.5 165.5,355.6 165.4,355.6 165.3,355.7 165.1,355.8 165.0,355.9 164.9,356.0 164.8,356.1Z" fill="#f3b294" stroke="#e0784c" stroke-width="0.9"/><path d="M164.7,361.0 166.8,362.5 170.2,359.8 170.0,358.8 166.8,358.2Z" fill="#e8875e" opacity="0.4"/><path d="M164.4,359.5 Q167.1,358.9 169.6,359.8" fill="none" stroke="#fbd8c4" stroke-width="0.7" opacity="0.8"/><path d="M163.0,377.7 162.8,377.8 162.7,377.9 162.6,378.0 162.6,378.1 162.5,378.2 162.4,378.3 162.4,378.5 162.4,378.6 162.3,378.7 162.3,378.9 162.3,379.0 162.4,379.2 162.4,379.3 163.8,383.2 163.8,383.3 163.9,383.4 164.0,383.5 164.1,383.6 164.1,383.7 164.3,383.8 164.4,383.9 164.5,384.0 164.6,384.0 164.7,384.1 164.9,384.1 165.0,384.1 165.1,384.1 165.3,384.1 165.4,384.1 168.0,383.5 168.1,383.5 168.3,383.4 168.4,383.3 168.5,383.3 168.6,383.2 168.7,383.1 171.0,380.8 171.1,380.6 171.1,380.5 171.2,380.4 171.3,380.3 171.3,380.2 171.3,380.0 171.3,379.9 171.3,379.7 171.3,379.6 171.3,379.5 171.3,379.3 171.2,379.2 171.2,379.1 171.1,379.0 171.0,378.9 170.9,378.8 170.8,378.7 167.2,375.9 167.1,375.9 167.0,375.8 166.9,375.7 166.8,375.7 166.6,375.7 166.5,375.7 166.4,375.6 166.2,375.7 166.1,375.7 166.0,375.7 165.8,375.8 165.7,375.8 165.6,375.9Z" fill="#f1ae90" stroke="#e0784c" stroke-width="0.9"/><path d="M165.0,378.6 166.1,381.5 168.0,381.1 169.4,379.5 166.7,377.4Z" fill="#e8875e" opacity="0.4"/><path d="M165.0,378.1 Q165.5,381.5 168.2,381.8" fill="none" stroke="#fbd8c4" stroke-width="0.7" opacity="0.8"/><path d="M162.5,337.5 162.4,337.6 162.3,337.7 162.2,337.8 162.1,337.9 162.1,338.0 162.0,338.1 162.0,338.3 161.9,338.4 161.9,338.5 161.9,338.6 161.9,338.8 161.9,338.9 162.0,339.0 162.1,339.6 162.2,339.7 162.2,339.9 162.3,340.0 162.4,340.1 162.5,340.2 162.6,340.3 162.7,340.4 162.8,340.5 163.0,340.5 163.1,340.6 163.2,340.6 163.4,340.6 170.6,341.2 170.7,341.2 170.8,341.2 171.0,341.2 171.1,341.2 171.2,341.1 171.4,341.1 171.5,341.0 171.6,340.9 171.7,340.8 171.8,340.7 171.9,340.6 171.9,340.5 172.0,340.3 172.0,340.2 172.1,340.1 172.1,339.9 172.1,339.8 172.1,339.6 172.0,339.5 172.0,339.4 171.9,339.2 171.9,339.1 171.8,339.0 171.7,338.9 171.6,338.8 171.5,338.7 171.4,338.6 171.3,338.6 171.1,338.5 169.7,338.0 169.6,338.0 167.7,337.4 167.7,337.4 165.8,336.8 165.8,336.8 164.8,336.5 164.7,336.5 164.5,336.5 164.4,336.5 164.3,336.5 164.1,336.5 164.0,336.6 163.9,336.6 163.7,336.7 163.6,336.7Z" fill="#f5ba9e" stroke="#e0784c" stroke-width="0.9"/><path d="M168.9,370.6 168.9,370.8 168.9,370.9 168.9,371.0 169.0,371.1 169.0,371.3 169.1,371.4 169.1,371.5 169.2,371.6 169.3,371.7 169.4,371.8 174.2,375.5 174.3,375.5 174.5,375.6 174.6,375.7 174.7,375.7 174.8,375.7 175.0,375.8 175.1,375.8 175.2,375.7 175.4,375.7 175.5,375.7 175.6,375.6 175.7,375.6 175.9,375.5 179.0,373.4 179.2,373.3 179.3,373.2 179.4,373.1 179.4,373.0 179.5,372.9 179.6,372.7 179.6,372.6 179.6,372.5 179.7,372.3 179.7,372.2 179.7,372.0 179.6,371.9 179.6,371.8 177.5,365.8 177.5,365.7 177.4,365.5 177.3,365.4 177.3,365.3 177.2,365.2 177.1,365.1 176.9,365.1 176.8,365.0 175.4,364.3 175.3,364.3 175.2,364.2 175.0,364.2 174.9,364.2 174.8,364.2 174.6,364.2 174.5,364.2 174.3,364.3 174.2,364.3 174.1,364.4 174.0,364.5 169.4,368.1 169.3,368.2 169.3,368.3 169.2,368.4 169.1,368.5 169.0,368.7 169.0,368.8 169.0,368.9 168.9,369.0 168.9,369.2Z" fill="#f3b294" stroke="#e0784c" stroke-width="0.9"/><path d="M170.4,369.3 170.4,370.0 174.1,372.9 176.6,371.2 174.8,365.9 174.6,365.9Z" fill="#e8875e" opacity="0.4"/><path d="M172.5,367.7 Q175.3,370.5 176.4,372.5" fill="none" stroke="#fbd8c4" stroke-width="0.7" opacity="0.8"/><path d="M175.4,342.8 175.3,342.9 175.2,343.0 175.2,343.1 175.2,343.3 175.1,343.4 175.1,343.5 175.1,343.7 175.1,343.8 175.2,343.9 176.2,347.7 176.3,347.8 176.3,347.9 176.4,348.0 176.5,348.2 176.6,348.3 176.7,348.4 176.8,348.4 176.9,348.5 177.0,348.6 177.2,348.6 177.3,348.7 177.4,348.7 177.6,348.7 177.7,348.7 177.8,348.7 182.8,347.8 182.9,347.8 183.0,347.7 183.2,347.7 183.3,347.6 183.4,347.5 183.5,347.4 183.6,347.3 183.7,347.2 183.8,347.1 183.8,347.0 183.9,346.8 183.9,346.7 183.9,346.6 183.9,346.4 183.9,345.4 183.9,345.2 183.9,345.1 183.9,345.0 183.8,344.8 183.8,344.7 183.7,344.6 183.6,344.5 182.8,343.5 182.7,343.4 182.6,343.3 182.5,343.2 182.4,343.1 182.3,343.0 182.2,343.0 181.2,342.7 181.2,342.7 181.1,342.6 181.1,342.6 178.6,341.8 178.5,341.7 177.6,341.4 177.4,341.4 177.3,341.3 177.1,341.3 177.0,341.3 176.9,341.3 176.7,341.4 176.6,341.4 176.5,341.5 176.3,341.5 176.2,341.6 176.1,341.7 176.0,341.8 175.9,341.9Z" fill="#f3b294" stroke="#e0784c" stroke-width="0.9"/><path d="M177.3,343.2 177.1,343.4 177.9,346.3 181.9,345.6 181.9,345.3 181.3,344.6 180.5,344.3 180.5,344.3 180.5,344.3 180.5,344.3 180.5,344.3 180.5,344.3 180.5,344.3 180.5,344.3 180.4,344.3 180.4,344.3 180.4,344.3 180.4,344.3 180.4,344.3 180.4,344.3 180.4,344.3 180.4,344.3 177.8,343.4 177.8,343.4 177.8,343.4 177.8,343.4 177.8,343.3 177.8,343.3 177.8,343.3 177.8,343.3Z" fill="#e8875e" opacity="0.4"/><path d="M180.9,343.5 Q179.6,343.7 177.7,346.8" fill="none" stroke="#fbd8c4" stroke-width="0.7" opacity="0.8"/><path d="M177.6,378.9 177.5,379.0 177.4,379.1 177.3,379.2 177.2,379.3 177.2,379.4 177.1,379.6 177.0,379.7 177.0,379.8 177.0,380.0 177.0,380.1 177.0,380.2 177.0,380.4 177.1,380.5 177.1,380.6 177.2,380.8 177.2,380.9 177.6,381.4 177.7,381.5 177.8,381.6 177.9,381.7 178.0,381.7 178.1,381.8 178.2,381.9 178.3,381.9 178.5,381.9 178.6,382.0 178.8,382.0 178.9,381.9 179.0,381.9 181.8,381.3 181.8,381.3 183.4,381.0 183.5,381.0 183.6,380.9 183.8,380.8 183.9,380.8 184.0,380.7 184.1,380.6 184.2,380.5 184.3,380.4 184.3,380.3 184.4,380.1 184.4,380.0 184.5,379.9 184.5,379.8 184.5,379.6 184.5,376.9 184.5,376.8 184.5,376.7 184.4,376.5 184.4,376.4 184.3,376.3 184.3,376.1 184.2,376.0 184.1,375.9 184.0,375.8 183.9,375.8 183.7,375.7 183.6,375.6 183.5,375.6 183.4,375.6 183.2,375.5 183.1,375.5 183.0,375.5 182.8,375.6 182.7,375.6 182.6,375.6 182.4,375.7 182.3,375.8Z" fill="#f5ba9e" stroke="#e0784c" stroke-width="0.9"/><path d="M175.0,354.3 174.9,354.4 174.9,354.6 174.9,354.7 174.8,354.8 174.8,354.9 174.8,355.1 174.8,355.2 174.8,355.3 175.6,359.5 175.6,359.6 175.7,359.8 175.7,359.9 175.8,360.0 175.9,360.1 175.9,360.2 176.0,360.3 176.1,360.4 176.2,360.5 176.4,360.5 178.5,361.5 178.6,361.6 178.8,361.6 178.9,361.7 179.0,361.7 179.2,361.7 179.3,361.7 179.4,361.7 179.5,361.6 179.7,361.6 179.8,361.5 183.7,359.4 183.8,359.3 183.9,359.3 184.0,359.2 184.1,359.1 184.2,359.0 184.3,358.8 184.3,358.7 184.4,358.6 184.4,358.4 184.4,358.3 184.5,358.2 184.5,354.4 184.4,354.2 184.3,352.7 184.2,352.6 184.2,352.5 184.2,352.3 184.1,352.2 184.0,352.1 184.0,352.0 183.9,351.9 183.8,351.8 183.7,351.7 183.5,351.6 183.4,351.6 183.3,351.5 183.2,351.5 183.0,351.5 182.9,351.5 182.8,351.5 182.6,351.5 176.7,352.6 176.5,352.6 176.4,352.6 176.3,352.7 176.2,352.7 176.1,352.8 176.0,352.9 175.9,353.0 175.8,353.1 175.7,353.2Z" fill="#f3b294" stroke="#e0784c" stroke-width="0.9"/><path d="M177.6,355.3 178.3,358.9 179.9,359.7 183.0,358.1 183.0,354.4 182.9,354.3 182.9,353.7 178.0,354.6Z" fill="#e8875e" opacity="0.4"/><path d="M176.8,356.2 Q180.9,356.1 182.8,356.5" fill="none" stroke="#fbd8c4" stroke-width="0.7" opacity="0.8"/></g><path d="M133,347 C126,360 126,380 131,398" stroke="#f8d8bc" stroke-width="1.8" fill="none"/><path d="M134.5,347 C127.5,360 127.5,380 132.5,398" stroke="#e48a60" stroke-width="0.6" fill="none"/><path d="M78.3,290.1 75.7,290.4 73.2,291.0 70.8,291.7 68.6,292.6 66.6,293.7 64.7,294.9 62.9,296.3 61.4,297.8 60.0,299.4 58.8,301.2 57.9,303.1 57.1,305.1 56.5,307.3 56.1,309.6 56.0,311.6 56.1,312.5 56.1,313.8 56.2,314.9 56.4,316.1 56.5,317.2 56.8,318.2 57.0,319.3 57.4,320.3 57.8,321.2 58.2,322.2 58.7,323.2 59.4,324.3 60.1,325.3 60.9,326.4 61.6,327.4 62.0,327.7 62.6,328.1 63.1,328.5 63.8,328.9 64.5,329.3 65.3,329.6 66.2,330.0 67.2,330.3 68.2,330.6 69.4,330.9 70.6,331.2 71.9,331.6 73.3,331.9 74.8,332.2 76.4,332.6 76.4,332.6 78.1,332.9 78.4,333.0 78.8,333.1 80.8,333.9 81.0,334.0 82.9,334.8 83.1,334.9 84.9,335.8 85.1,335.9 86.8,336.8 87.1,336.9 88.7,337.9 88.9,338.0 90.4,339.1 90.7,339.3 92.0,340.3 92.3,340.6 93.6,341.7 93.8,342.0 95.0,343.2 95.3,343.4 96.3,344.7 96.6,345.0 97.5,346.4 97.7,346.7 98.5,348.1 98.7,348.5 99.4,350.0 99.5,350.4 100.1,351.9 100.2,352.4 100.6,353.9 100.7,354.4 100.9,356.0 101.0,356.3 101.1,357.3 101.1,358.0 101.1,359.0 101.1,359.4 101.1,359.4 101.1,359.5 101.1,360.2 101.1,361.2 101.1,361.6 101.0,361.9 100.9,362.8 100.8,363.3 100.6,363.7 100.3,364.5 100.2,364.9 100.0,365.3 99.5,366.0 99.3,366.4 99.1,366.7 98.5,367.4 98.2,367.7 97.9,368.0 97.2,368.6 96.7,369.0 95.9,369.5 95.4,369.8 94.4,370.3 94.0,370.5 92.9,370.9 92.6,371.1 91.4,371.4 91.1,371.5 89.8,371.9 89.5,371.9 88.1,372.2 87.9,372.2 86.3,372.5 86.2,372.5 84.5,372.8 84.4,372.8 82.5,373.0 82.1,373.0 80.5,373.0 79.1,373.2 78.0,373.3 77.0,373.6 76.2,373.8 75.7,374.0 75.4,374.2 75.4,374.3 76.4,375.6 78.0,377.3 79.8,379.1 81.7,380.7 83.8,382.4 86.1,383.9 88.5,385.5 91.1,386.9 93.8,388.2 96.6,389.5 99.5,390.7 102.4,391.8 105.4,392.7 108.5,393.6 111.7,394.3 114.3,394.8 118.6,394.5 123.4,394.1 128.4,393.5 133.4,392.8 138.6,391.9 143.8,391.0 149.1,390.0 154.5,388.8 159.9,387.7 165.4,386.5 170.9,385.2 176.5,384.0 176.5,384.0 182.1,382.8 182.1,382.8 187.7,381.6 187.8,381.6 193.4,380.5 193.4,380.5 199.1,379.4 199.6,379.3 205.2,378.9 205.2,378.9 210.9,378.4 210.9,378.4 216.6,378.0 216.6,377.9 222.4,377.5 222.4,377.5 228.4,377.1 228.4,377.1 234.4,376.6 234.4,376.6 240.7,376.2 240.7,376.2 247.2,375.7 247.2,375.7 253.8,375.3 253.8,375.3 260.8,374.8 268.0,374.3 275.6,373.8 283.5,373.3 291.8,372.8 300.5,372.2 309.7,371.6 309.9,371.6 313.7,371.5 313.8,371.5 317.9,371.4 317.9,371.4 322.2,371.3 322.2,371.3 326.8,371.3 326.8,371.3 331.6,371.2 331.6,371.2 336.6,371.1 336.7,371.1 341.9,371.1 341.9,371.1 347.4,371.0 347.4,371.0 353.2,370.9 359.2,370.9 365.4,370.8 371.8,370.8 378.5,370.7 385.4,370.7 392.6,370.6 400.0,370.6 400.2,370.6 401.2,370.6 401.3,370.7 402.4,370.7 402.4,370.7 403.6,370.8 403.6,370.8 405.0,370.9 405.0,370.9 406.5,370.9 408.0,371.0 409.7,371.1 411.5,371.2 413.5,371.4 415.5,371.5 417.7,371.6 419.9,371.7 422.3,371.8 424.8,371.9 427.4,372.0 430.2,372.1 435.7,372.3 435.8,372.3 441.1,372.5 441.2,372.5 446.3,372.8 446.4,372.8 451.4,373.2 451.4,373.2 456.2,373.7 456.3,373.7 460.8,374.2 460.9,374.2 465.3,374.8 465.4,374.8 469.5,375.5 469.6,375.5 473.5,376.2 473.7,376.2 477.4,376.9 477.5,377.0 481.0,377.8 481.1,377.8 484.4,378.6 484.6,378.7 487.6,379.6 487.8,379.6 490.6,380.6 490.8,380.6 493.4,381.6 493.6,381.7 496.0,382.7 496.2,382.8 498.4,383.9 498.6,384.0 500.7,385.1 500.9,385.2 502.9,386.4 503.0,386.5 504.9,387.8 505.1,387.9 506.9,389.2 507.0,389.3 508.7,390.6 508.8,390.7 510.5,392.0 510.6,392.0 512.2,393.4 512.2,393.4 513.8,394.8 513.8,394.8 515.4,396.1 516.8,397.4 518.3,398.6 519.7,399.7 521.0,400.7 522.4,401.7 523.6,402.5 524.3,402.9 525.1,403.3 525.8,403.7 526.6,404.0 527.5,404.2 528.3,404.5 529.2,404.7 530.2,404.9 531.1,405.0 532.2,405.1 533.2,405.2 534.4,405.2 535.5,405.2 536.8,405.1 538.0,405.0 539.3,404.9 541.5,404.4 543.5,403.8 545.3,403.0 547.0,402.1 548.4,400.9 549.8,399.6 551.0,398.2 552.1,396.6 553.0,394.8 553.8,393.0 554.4,390.9 554.9,388.8 555.2,386.6 555.3,384.9 555.3,384.1 555.1,381.8 554.9,381.3 554.8,380.7 554.5,380.0 554.3,379.4 554.0,378.8 553.7,378.2 553.3,377.6 552.9,377.0 552.5,376.4 552.0,375.8 551.4,375.2 550.8,374.5 550.2,373.9 549.5,373.2 548.7,372.6 547.8,371.9 547.5,371.5 547.1,371.2 546.8,370.8 546.6,370.3 546.4,369.9 546.2,369.4 546.1,369.0 546.0,368.5 546.0,368.0 546.0,367.5 546.1,367.0 546.1,366.9 546.1,366.8 546.0,366.3 546.0,365.8 546.0,365.3 546.1,364.8 546.2,364.3 546.4,363.8 546.6,363.4 546.9,363.0 547.2,362.6 547.5,362.2 547.9,361.9 552.9,357.9 553.4,357.5 556.2,355.8 558.2,354.0 559.9,352.0 561.3,349.6 562.3,347.0 563.0,344.3 563.3,341.7 563.3,340.6 562.8,337.7 562.1,334.9 560.9,332.2 559.5,329.7 557.7,327.5 555.6,325.6 553.1,324.0 550.0,322.6 549.6,322.4 549.2,322.1 548.5,321.7 548.0,321.4 547.3,321.0 546.5,320.7 545.7,320.4 544.7,320.1 543.6,319.9 542.5,319.7 541.3,319.5 540.1,319.4 538.8,319.3 537.4,319.2 536.0,319.2 534.5,319.2 533.1,319.3 531.5,319.5 531.4,319.5 530.2,319.6 529.0,319.7 527.9,319.9 526.7,320.0 525.7,320.2 524.6,320.5 523.5,320.7 522.5,321.0 521.4,321.4 520.4,321.8 519.3,322.2 518.2,322.7 517.1,323.2 516.0,323.8 514.9,324.5 513.7,325.2 512.0,326.3 512.0,326.3 510.2,327.5 510.2,327.5 508.3,328.7 508.3,328.8 506.3,330.0 506.2,330.1 504.2,331.3 504.1,331.3 501.9,332.6 501.8,332.6 499.6,333.8 499.5,333.9 497.1,335.1 497.0,335.1 494.6,336.3 494.4,336.4 491.9,337.5 491.7,337.5 489.0,338.6 488.9,338.7 486.1,339.6 485.9,339.7 483.0,340.6 482.8,340.7 479.8,341.5 479.6,341.5 476.4,342.3 476.2,342.3 472.9,342.9 472.7,342.9 469.4,343.4 469.4,343.4 465.9,343.9 465.9,343.9 462.2,344.4 462.2,344.4 458.4,344.8 458.3,344.8 454.3,345.2 454.3,345.2 450.2,345.7 450.1,345.7 445.8,346.1 445.8,346.1 441.3,346.4 441.2,346.4 436.6,346.8 436.6,346.8 431.8,347.1 431.8,347.1 426.8,347.3 426.8,347.3 421.7,347.6 421.7,347.6 416.5,347.7 416.5,347.8 411.1,347.9 411.1,347.9 405.6,348.0 405.6,348.0 400.0,348.0 399.9,348.0 387.0,347.8 374.6,347.6 362.6,347.5 351.0,347.3 339.9,347.2 329.1,347.1 318.7,347.0 308.7,346.8 299.0,346.8 289.7,346.7 280.7,346.6 272.0,346.5 263.6,346.4 255.5,346.4 247.6,346.3 240.0,346.3 235.5,346.3 235.5,346.3 231.3,346.3 231.3,346.3 227.4,346.2 227.4,346.2 223.8,346.2 223.8,346.2 220.4,346.1 220.4,346.1 217.3,346.1 217.3,346.1 214.4,346.0 214.4,346.0 211.7,345.9 211.7,345.9 209.2,345.8 209.1,345.8 206.8,345.7 206.7,345.7 204.5,345.6 204.4,345.5 202.3,345.4 202.3,345.4 200.3,345.2 200.2,345.2 198.2,345.0 198.2,345.0 196.3,344.7 196.2,344.7 194.3,344.5 193.7,344.3 190.6,343.5 190.5,343.4 187.5,342.5 187.4,342.5 184.6,341.6 184.5,341.6 181.9,340.7 181.8,340.7 179.3,339.8 179.2,339.8 176.8,338.9 176.8,338.9 174.4,338.1 172.2,337.3 170.1,336.6 168.1,335.9 166.2,335.3 164.4,334.9 162.7,334.5 161.1,334.2 159.5,334.1 158.0,334.0 157.6,334.0 157.4,334.0 157.3,334.1 157.2,334.1 157.1,334.3 156.9,334.5 156.7,334.9 156.4,335.4 156.1,335.9 155.8,336.5 155.5,337.2 155.4,337.3 154.8,338.4 154.7,338.6 154.1,339.7 154.0,339.9 153.3,341.0 153.2,341.2 152.5,342.2 152.3,342.4 151.5,343.4 151.3,343.6 150.5,344.5 150.3,344.8 149.4,345.6 149.2,345.9 148.3,346.7 148.0,346.9 147.0,347.6 146.6,347.8 145.6,348.5 145.2,348.7 144.2,349.2 143.7,349.4 142.6,349.8 142.1,350.0 141.0,350.3 140.4,350.4 139.2,350.5 138.7,350.6 137.4,350.6 136.9,350.6 135.6,350.5 135.0,350.4 133.3,350.0 132.9,349.9 131.2,349.4 130.8,349.3 129.3,348.7 128.9,348.5 127.4,347.7 127.1,347.6 125.6,346.7 125.3,346.5 123.9,345.5 123.7,345.3 122.3,344.3 122.1,344.1 120.8,342.9 120.6,342.7 119.4,341.5 119.2,341.3 118.0,340.0 117.9,339.8 116.7,338.5 116.6,338.3 115.5,336.9 115.4,336.7 114.4,335.3 114.3,335.1 113.4,333.6 113.3,333.5 112.4,332.0 112.4,331.8 111.6,330.3 111.5,330.1 110.9,328.9 110.8,328.7 110.3,327.4 110.2,327.2 109.8,325.8 109.7,325.7 109.3,324.2 109.2,324.1 108.9,322.6 108.8,322.5 108.5,320.9 108.4,320.8 108.1,319.2 108.1,319.1 107.8,317.4 107.8,317.4 107.5,315.6 107.5,315.6 107.2,313.8 107.2,313.8 106.9,312.0 106.9,312.0 106.6,310.2 106.6,310.1 106.4,308.3 106.1,306.4 105.8,304.6 105.6,303.2 105.3,302.2 104.7,301.0 104.0,299.9 103.2,298.7 102.2,297.6 101.0,296.4 99.7,295.4 98.2,294.4 96.5,293.5 94.7,292.6 92.8,291.9 90.7,291.2 88.5,290.7 86.1,290.3 83.6,290.1 81.0,290.0Z" fill="none" stroke="#e48a5c" stroke-width="1.0" clip-path="url(#spClip)"/><clipPath id="spClip"><rect x="0" y="250" width="186" height="180"/></clipPath><path d="M81,285 C97,285 108,293 110.5,302 C112,312 113,322 116,328 C120,336 127,344 136,345.5 C143,346.5 148,341 151,335 C153,331 154,329 158,329 C168,329 178,335 195,339.5 C205,341 215,341.2 240,341.3 C280,341.5 330,342 400,343 C430,343 455,340.5 472,338 C490,335 502,327 511,321 C518,316.5 524,315 531,314.5 C540,313.5 548,315 552,318 C572,325 574,355 556,364 L551,368 C556,372 559,376 560,381 C562,396 555,410 540,412 C532,413 526,412 521,409 C513,404 506,395 494,389.5 C482,384 460,380 430,379.3 C415,378.8 405,378 400,377.8 C360,378 330,378.3 310,378.8 C260,382 230,384 200,386.5 C170,392 140,401 114,402 C96,399 79,390 71,379 C68,372 72,368 82,368 C92,367 97,365 96,359 C95,350 88,344 77,340 C68,338 62,337 58,333 C52,326 51,320 51,312 C51,296 64,285 81,285 Z" fill="none" stroke="#efbe96" stroke-width="0.8"/><path d="M186.5,345.3 L279.8,345.3 L279.8,376.5 L186.5,377.8 C181.5,369 181.5,354 186.5,345.3 Z" fill="url(#cavG)"/><path d="M186.5,345.3 C181.5,354 181.5,369 186.5,377.8" stroke="#f6d4b8" stroke-width="2.2" fill="none"/><path d="M279.8,345.3 L279.8,376.5" stroke="#f8dcc6" stroke-width="1.2"/><rect x="228" y="345.3" width="51.8" height="30.8" fill="#fce4d0"/><rect x="227.5" y="346.6" width="50" height="27.6" fill="url(#yelG)"/><ellipse cx="227.8" cy="360.4" rx="3.3" ry="13.8" fill="#fdf6d6"/><path d="M227,346.6 C222.8,352 222.8,369 227,374.2" fill="none" stroke="#e04848" stroke-width="1"/><path d="M192,362.2 C205,362 215,361.5 226,360.8" stroke="#f02434" stroke-width="1.2" fill="none"/><path d="M192,363.3 C205,363.1 215,362.6 226,362" stroke="#3a50e0" stroke-width="1.1" fill="none"/><path d="M192,364.6 C205,364.3 215,363.6 226,363" stroke="#c8d028" stroke-width="1.1" fill="none"/><path d="M226,361 L200,353.7 M226,361.5 L203,357 M226,362.5 L216.5,374.7 M226,362.5 L221.8,374.7 M224,362 L211,372 M215,363 L195,370" stroke="#9048b0" stroke-width="0.6" fill="none" opacity="0.8"/><path d="M520,322 C523,314 540,318 552,319 C566,321 572,330 571,342 C570,356 562,362 548,362 C532,362 518,356 517,342 C516,334 517,328 520,322 Z" fill="url(#condG)"/><path d="M518,384 C517,376 532,375 545,375 C560,375 567,383 566,393 C565,405 556,410 545,410 C530,410 520,405 517,397 C516,392 517,388 518,384 Z" fill="url(#condG)"/><line x1="98" y1="306.6" x2="131" y2="306.6" stroke="#1b3450" stroke-width="0.8"/><path d="M95,304.5 L100,306.6 L95,308.7 Z" fill="#1b3a5a"/><text x="136" y="311.2" font-size="12.3" fill="#142a48" stroke="#142a48" stroke-width="0.2" textLength="63" lengthAdjust="spacingAndGlyphs">Bone marrow</text><path d="M76.7,318 L76.7,265.2 L70.9,265.2 L81.9,252.8 L92.6,265.2 L87.2,265.2 L87.2,318 Z" fill="url(#upG)"/><text x="305.6" y="289.2" text-anchor="middle" font-size="13" letter-spacing="0.1" fill="#ffffff">Iron, copper,</text><text x="306" y="302.3" text-anchor="middle" font-size="13" letter-spacing="0.25" fill="#ffffff">vitamin B12</text><path d="M301.3,303 L311.2,303 L311.2,345.5 L316.6,345.5 L306.2,358.6 L295.8,345.5 L301.3,345.5 Z" fill="url(#downG)"/><path d="M311.2,345.5 L316.6,345.5 L306.2,358.6 L295.8,345.5 L301.3,345.5" fill="none" stroke="#b8c6d0" stroke-width="0.6"/><path d="M372.4,156.1 C436.1,174.5 496,214.6 515.5,281" stroke="#ffffff" stroke-width="2.4" fill="none"/><path d="M507.8,281 L521,295 L523,275.8 L515.7,283.7 Z" fill="#ffffff"/><path id="arcT" d="M377.5,151.5 C441,170 502,210 522,276" fill="none"/><text font-size="13.4" fill="#ffffff"><textPath href="#arcT" startOffset="58">Erythropoietin</textPath></text><circle cx="402.75" cy="183.27599999999998" r="1.8900000000000001" fill="#143850" opacity="0.85"/><circle cx="402.3" cy="182.7" r="1.8" fill="url(#bubG)"/><circle cx="411.325" cy="195.70000000000002" r="2.625" fill="#143850" opacity="0.85"/><circle cx="410.7" cy="194.9" r="2.5" fill="url(#bubG)"/><circle cx="418.5" cy="196.212" r="1.6800000000000002" fill="#143850" opacity="0.85"/><circle cx="418.1" cy="195.7" r="1.6" fill="url(#bubG)"/><circle cx="431.5" cy="194.924" r="3.3600000000000003" fill="#143850" opacity="0.85"/><circle cx="430.7" cy="193.9" r="3.2" fill="url(#bubG)"/><circle cx="441.125" cy="204.8" r="2.625" fill="#143850" opacity="0.85"/><circle cx="440.5" cy="204" r="2.5" fill="url(#bubG)"/><circle cx="431.175" cy="209.72" r="3.6750000000000003" fill="#143850" opacity="0.85"/><circle cx="430.3" cy="208.6" r="3.5" fill="url(#bubG)"/><circle cx="444.975" cy="215.064" r="2.8350000000000004" fill="#143850" opacity="0.85"/><circle cx="444.3" cy="214.2" r="2.7" fill="url(#bubG)"/><circle cx="454.675" cy="216.12" r="3.6750000000000003" fill="#143850" opacity="0.85"/><circle cx="453.8" cy="215" r="3.5" fill="url(#bubG)"/><circle cx="451.75" cy="228.844" r="4.41" fill="#143850" opacity="0.85"/><circle cx="450.7" cy="227.5" r="4.2" fill="url(#bubG)"/><circle cx="464.475" cy="230.72" r="3.6750000000000003" fill="#143850" opacity="0.85"/><circle cx="463.6" cy="229.6" r="3.5" fill="url(#bubG)"/><circle cx="467.70000000000005" cy="245.308" r="4.620000000000001" fill="#143850" opacity="0.85"/><circle cx="466.6" cy="243.9" r="4.4" fill="url(#bubG)"/><circle cx="479.825" cy="251.324" r="5.985" fill="#143850" opacity="0.85"/><circle cx="478.4" cy="249.5" r="5.7" fill="url(#bubG)"/><circle cx="488.875" cy="272.216" r="6.615" fill="#143850" opacity="0.85"/><circle cx="487.3" cy="270.2" r="6.3" fill="url(#bubG)"/>
</svg>
</body></html>
